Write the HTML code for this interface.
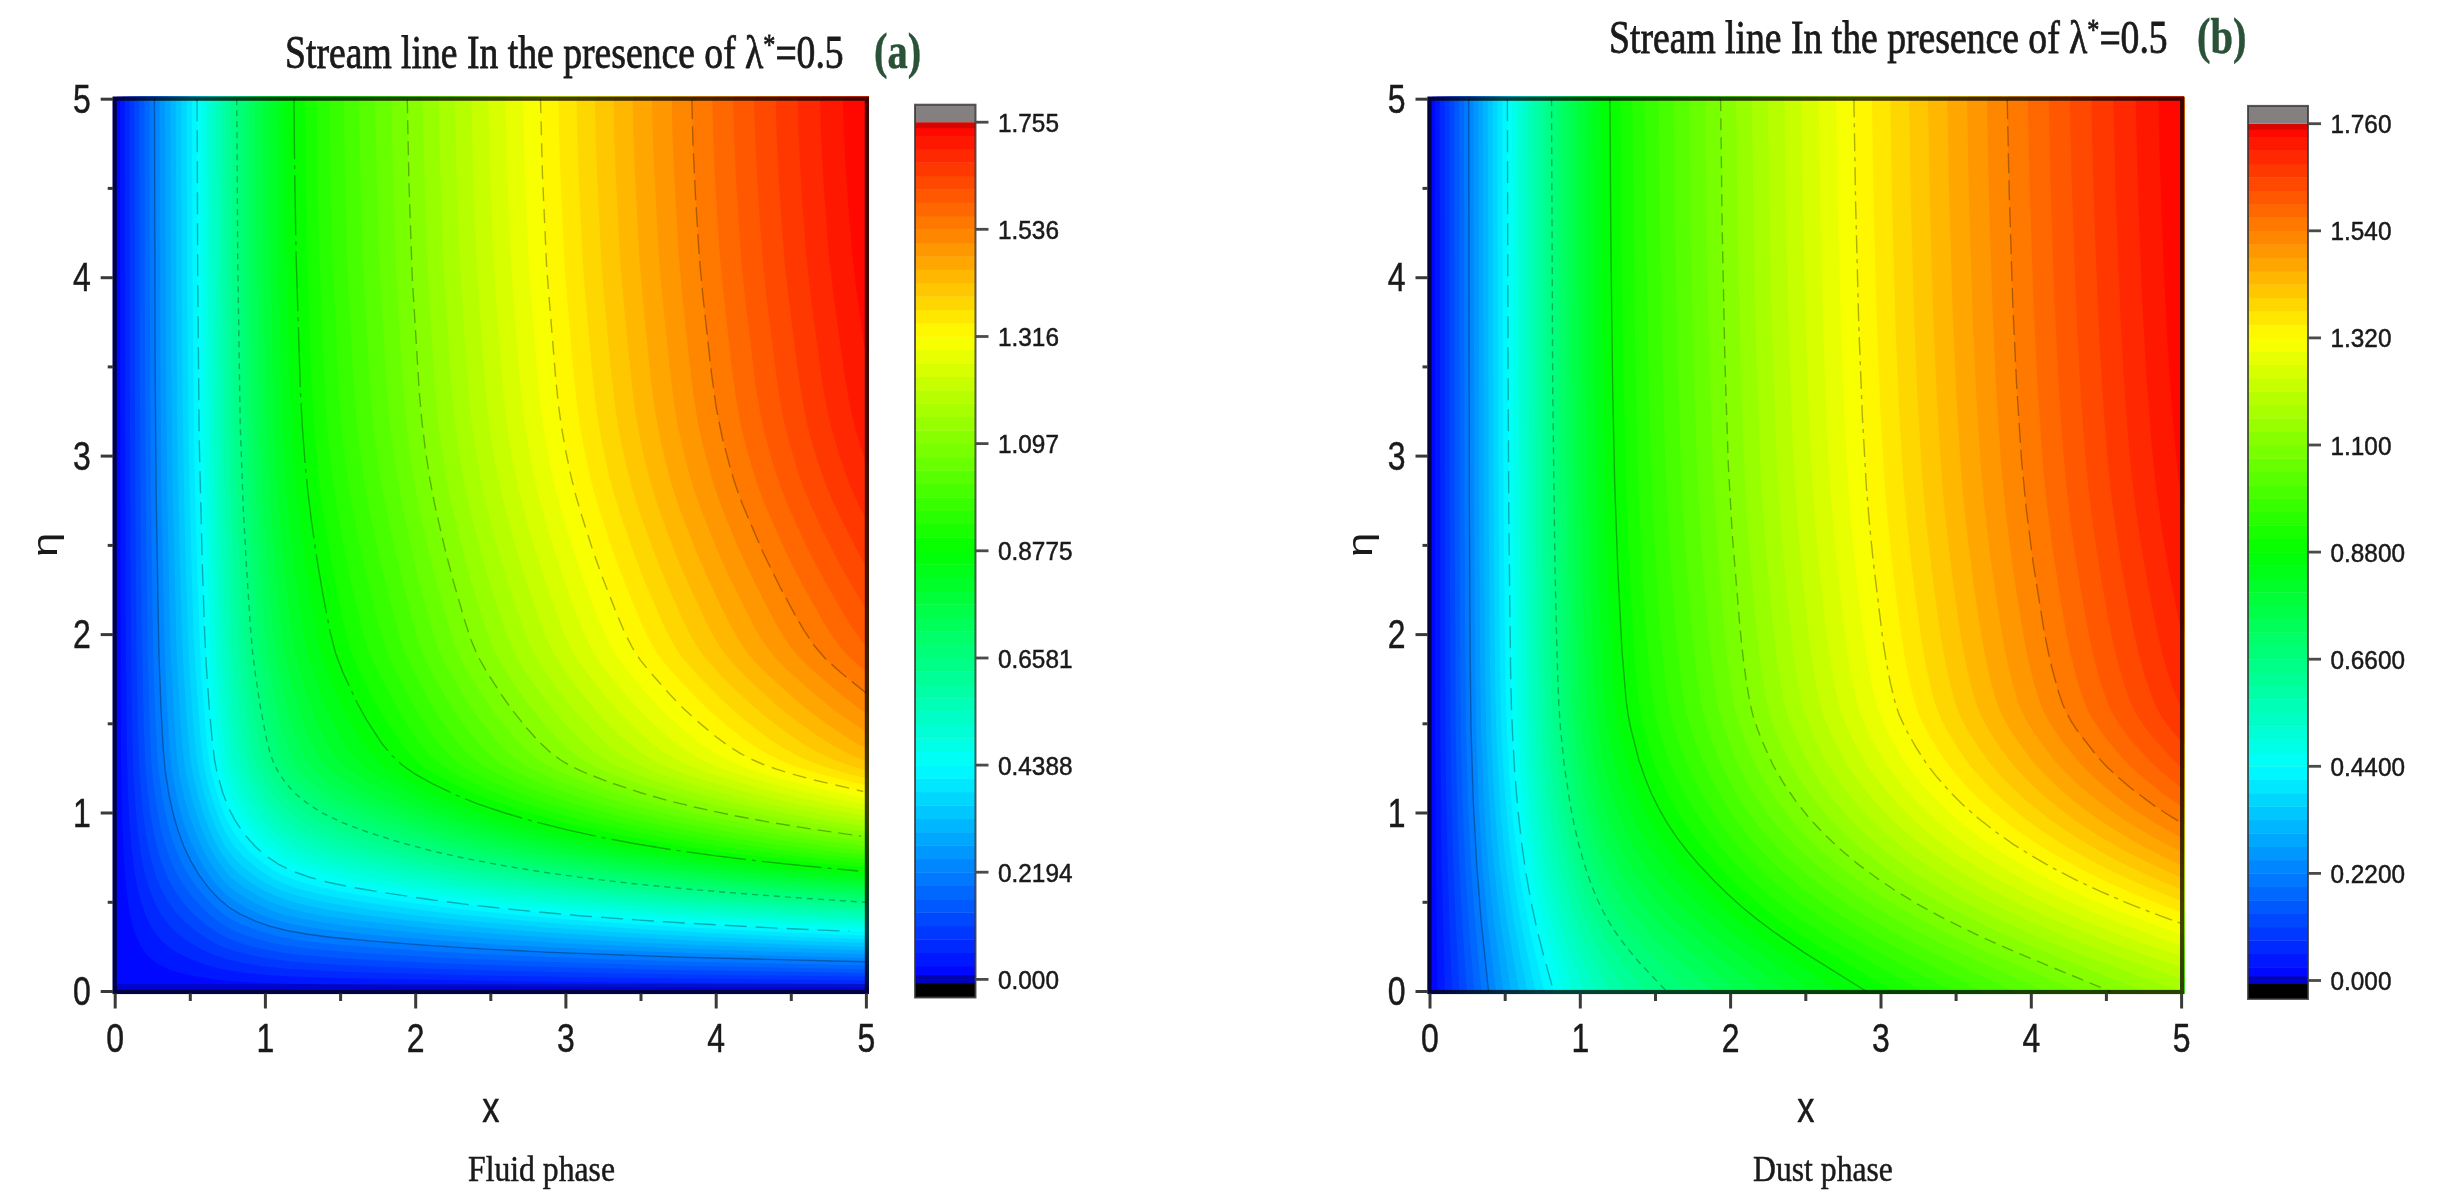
<!DOCTYPE html>
<html><head><meta charset="utf-8"><title>Stream lines</title><style>html,body{margin:0;padding:0;background:#fff}svg{display:block;filter:blur(0.6px)}</style></head><body>
<svg width="2448" height="1204" viewBox="0 0 2448 1204">
<rect width="2448" height="1204" fill="#fff"/>
<use href="#fa" transform="translate(490.80,545.35) scale(1.00666,1.00560) translate(-490.80,-545.35)"/>
<g id="fa">
<rect x="115.2" y="99.2" width="751.2" height="892.3" fill="#0008ff"/>
<path d="M120.0,99.2 120.5,650.9 121.1,761.0 122.2,819.0 123.4,848.7 124.9,874.0 126.8,893.3 129.3,910.4 132.3,924.6 136.1,936.5 140.7,946.1 145.8,953.6 151.7,959.5 159.1,964.7 168.5,969.2 180.1,972.9 197.0,976.6 216.2,979.6 230.3,981.1 253.1,982.6 293.7,984.1 406.9,985.6 638.2,987.0 866.4,987.8 866.4,99.2Z" fill="#0018ff"/>
<path d="M124.8,99.2 125.0,424.1 125.7,629.4 126.7,746.1 128.0,793.0 129.5,822.0 131.5,847.2 134.2,869.6 137.2,886.7 141.3,903.0 146.1,916.4 151.7,927.6 158.5,937.2 162.6,941.7 166.8,945.4 171.6,949.1 177.5,952.8 189.5,958.8 205.8,964.7 219.3,968.4 235.0,971.4 253.1,973.7 280.1,975.9 337.0,978.1 500.1,981.1 638.4,982.6 866.4,984.1 866.4,99.2Z" fill="#0028ff"/>
<path d="M129.6,99.2 129.9,404.8 130.5,558.0 131.4,674.7 132.5,743.1 133.4,772.9 135.3,804.1 137.7,830.9 140.6,852.4 144.4,871.8 148.7,887.4 154.5,902.3 160.4,913.4 168.0,923.8 172.7,929.0 177.5,933.5 188.4,941.7 202.8,949.9 216.3,955.8 230.3,960.3 244.4,963.2 263.5,966.2 284.2,968.4 320.0,970.7 357.7,972.2 500.2,975.9 638.5,978.1 866.4,980.4 866.4,99.2Z" fill="#0038ff"/>
<path d="M134.5,99.2 134.9,392.2 135.5,528.2 136.7,659.9 138.1,731.2 139.2,765.5 141.3,794.5 143.7,818.2 147.0,840.6 151.0,859.1 155.7,875.5 161.2,888.9 168.1,901.5 176.1,912.7 186.1,923.1 197.2,932.0 210.8,940.9 217.8,944.7 224.5,947.6 235.1,951.3 253.2,955.8 274.6,959.5 294.0,961.8 324.1,964.0 369.4,966.2 427.3,968.4 500.3,970.7 598.3,972.9 684.3,974.4 866.4,976.6 866.4,99.2Z" fill="#0048ff"/>
<path d="M139.4,99.2 139.9,385.5 140.6,516.4 142.2,656.9 143.6,718.6 145.2,761.7 147.2,787.0 150.1,811.6 153.9,833.9 157.9,851.0 163.2,867.3 169.1,880.7 176.0,892.6 184.8,904.5 194.6,914.9 206.8,925.3 218.8,933.5 230.5,939.4 245.3,944.7 262.5,949.1 282.7,952.8 301.0,955.1 337.4,958.0 376.8,960.3 440.4,963.2 523.8,966.2 674.9,969.9 866.4,972.9 866.4,99.2Z" fill="#0058ff"/>
<path d="M144.4,99.2 144.9,381.8 145.8,510.4 147.7,654.7 149.4,714.9 151.2,758.0 153.0,779.6 156.3,804.9 160.1,824.9 164.7,843.5 170.1,859.1 176.5,873.3 183.6,885.2 191.9,896.3 202.7,908.2 213.4,917.9 223.9,925.3 235.1,931.3 251.0,937.2 269.8,942.4 289.1,946.1 312.9,949.1 347.4,952.1 407.5,955.8 465.5,958.8 519.9,961.0 668.7,965.5 866.4,969.2 866.4,99.2Z" fill="#0068ff"/>
<path d="M149.4,99.2 150.1,378.8 151.0,505.9 153.2,653.2 155.2,711.9 157.2,754.3 159.1,775.1 162.8,800.4 166.8,819.7 171.9,838.3 177.4,853.2 184.5,868.1 191.7,880.0 200.7,891.9 211.5,903.8 221.6,912.7 231.6,919.4 243.9,925.3 259.8,931.3 278.8,936.5 299.2,940.2 322.8,943.2 355.2,946.1 418.9,950.6 470.5,953.6 534.7,956.6 615.5,959.5 691.8,961.8 866.4,965.5 866.4,99.2Z" fill="#0078ff"/>
<path d="M154.5,99.2 155.2,375.8 156.3,501.5 158.9,651.7 161.0,707.5 163.3,749.8 165.2,770.7 169.0,794.5 173.2,813.8 178.4,831.6 183.9,846.5 190.6,860.6 199.0,874.8 208.3,887.4 218.6,898.6 223.5,903.0 229.2,907.5 240.4,914.2 255.0,920.9 269.7,926.1 286.8,930.5 307.9,934.2 331.0,937.2 370.1,940.9 428.0,945.4 487.3,949.1 546.3,952.1 618.6,955.1 685.0,957.3 866.4,961.8 866.4,99.2Z" fill="#0087ff"/>
<path d="M159.7,99.2 160.5,372.1 161.6,497.0 164.7,650.2 167.0,703.7 169.4,744.6 171.2,764.7 174.1,783.3 178.4,804.1 183.9,823.5 189.9,839.8 196.5,853.9 205.9,870.3 214.5,882.2 223.5,891.9 233.4,900.0 247.1,908.2 261.6,914.9 276.4,920.1 290.7,923.8 310.7,927.6 337.8,931.3 374.1,935.0 445.1,940.9 501.2,944.7 555.7,947.6 621.0,950.6 701.9,953.6 866.4,958.0 866.4,99.2Z" fill="#0097ff"/>
<path d="M165.0,99.2 165.9,368.4 167.1,492.6 170.6,648.7 173.0,699.3 175.4,738.7 177.3,760.2 179.6,775.9 184.4,798.2 189.7,816.8 196.2,834.6 203.3,850.2 211.7,865.1 220.3,877.0 224.9,882.2 229.6,886.7 235.1,891.1 240.5,894.8 256.1,903.8 271.4,910.4 285.1,914.9 300.9,918.6 321.9,922.3 349.6,926.1 408.0,932.0 450.2,935.7 501.3,939.4 563.3,943.2 623.1,946.1 695.4,949.1 784.5,952.1 866.4,954.3 866.4,99.2Z" fill="#00a7ff"/>
<path d="M170.4,99.2 171.3,357.2 172.6,482.9 176.3,642.0 177.6,671.0 180.6,720.8 182.8,749.1 184.8,766.2 188.6,785.5 193.7,805.6 200.5,825.7 208.0,843.5 215.7,857.7 224.7,870.3 229.3,875.5 234.0,880.0 244.9,888.1 258.7,896.3 266.2,900.0 275.0,903.8 288.3,908.2 306.9,912.7 327.5,916.4 354.0,920.1 414.9,926.8 454.5,930.5 511.8,935.0 569.7,938.7 640.0,942.4 708.6,945.4 866.4,950.6 866.4,99.2Z" fill="#00b7ff"/>
<path d="M175.8,99.2 176.4,300.7 177.2,410.0 178.1,477.7 179.9,558.0 182.1,637.6 183.3,664.3 186.1,709.7 188.7,743.1 190.7,761.7 193.7,778.1 198.7,798.2 205.0,818.2 212.9,837.6 220.0,851.0 228.4,862.9 233.0,868.1 237.6,872.5 243.9,877.7 250.0,882.2 263.7,890.4 278.3,897.1 291.3,901.5 309.1,906.0 332.5,910.4 357.7,914.2 414.0,920.9 457.8,925.3 510.8,929.8 563.5,933.5 626.1,937.2 702.5,940.9 776.8,943.9 866.4,946.9 866.4,99.2Z" fill="#00c7ff"/>
<path d="M181.2,99.2 181.8,288.8 182.6,402.6 183.5,465.8 185.3,547.6 187.8,630.1 188.9,658.4 191.4,697.0 194.4,736.5 196.6,758.0 199.1,772.9 203.5,791.5 209.3,810.8 216.2,828.7 223.7,843.5 227.5,849.5 232.0,855.4 235.9,859.9 242.1,865.8 253.9,875.5 267.0,883.7 281.2,890.4 296.7,895.6 317.8,900.8 341.5,905.2 366.5,909.0 419.4,915.7 460.6,920.1 509.8,924.6 568.7,929.0 627.1,932.8 697.4,936.5 783.3,940.2 866.4,943.1 866.4,99.2Z" fill="#00d7ff"/>
<path d="M186.6,99.2 187.1,273.9 188.6,442.0 189.7,497.8 191.7,572.1 193.8,637.6 195.5,669.5 198.4,711.2 201.2,744.6 203.3,761.7 205.9,775.9 211.7,798.2 218.2,816.8 222.1,825.7 226.7,834.6 230.8,841.3 235.1,847.2 245.5,858.4 257.8,868.8 270.3,877.0 284.1,883.7 299.1,888.9 319.2,894.1 341.6,898.6 369.4,903.0 418.3,909.7 462.9,914.9 517.2,920.1 573.0,924.6 640.0,929.0 707.5,932.8 788.9,936.5 866.4,939.4 866.4,99.2Z" fill="#00e7ff"/>
<path d="M191.9,99.2 192.5,272.5 194.0,439.8 195.1,495.5 197.0,566.2 199.4,636.1 201.0,668.0 204.0,709.7 206.8,742.4 208.9,760.2 211.4,773.6 217.4,795.9 223.7,813.0 227.4,821.2 231.5,828.7 235.7,835.3 240.2,841.3 250.4,852.4 256.1,857.7 262.7,862.9 275.1,871.0 282.1,874.8 288.8,877.7 303.9,882.9 323.7,888.1 345.4,892.6 377.0,897.8 423.1,904.5 465.1,909.7 515.7,914.9 576.7,920.1 639.7,924.6 702.5,928.3 777.0,932.0 866.4,935.7 866.4,99.2Z" fill="#00f7ff"/>
<path d="M197.1,99.2 197.7,272.5 199.2,439.8 200.4,495.5 202.4,568.4 204.8,636.1 206.4,668.0 209.5,709.7 212.3,741.7 214.6,760.2 217.2,772.9 223.1,793.7 229.2,809.3 232.5,816.0 236.4,822.7 246.5,836.8 251.7,842.8 257.6,848.7 263.6,853.9 270.5,859.1 277.4,863.6 284.2,867.3 292.2,871.0 300.0,874.0 319.2,880.0 341.5,885.2 369.9,890.4 412.4,897.1 449.5,902.3 493.3,907.5 545.5,912.7 598.5,917.1 661.5,921.6 724.0,925.3 797.8,929.0 866.4,932.0 866.4,99.2Z" fill="#00fff7"/>
<path d="M202.1,99.2 202.7,271.7 204.3,438.3 205.4,494.0 207.4,562.5 209.8,632.3 211.4,664.3 214.6,706.7 217.6,737.9 219.9,756.5 222.5,769.9 227.8,787.8 230.8,795.9 234.0,803.4 242.0,817.5 251.6,830.9 257.4,837.6 262.5,842.8 268.4,848.0 274.3,852.4 281.1,856.9 287.8,860.6 303.5,867.3 324.3,874.0 345.6,879.2 372.4,884.4 416.9,891.9 458.1,897.8 507.0,903.8 558.1,909.0 609.7,913.4 670.6,917.9 730.8,921.6 801.3,925.3 866.4,928.2 866.4,99.2Z" fill="#00ffe7"/>
<path d="M206.9,99.2 207.5,271.0 209.1,436.8 210.2,491.8 212.2,557.2 214.8,628.6 216.4,660.6 219.8,703.0 222.7,732.7 225.1,752.1 227.8,766.2 232.6,781.8 239.2,797.4 247.1,811.6 256.1,824.2 261.8,830.9 267.6,836.8 278.2,845.8 283.7,849.5 290.2,853.2 298.0,856.9 307.1,860.6 327.2,867.3 350.2,873.3 379.2,879.2 421.1,886.7 460.4,892.6 507.1,898.6 554.8,903.8 611.1,909.0 668.5,913.4 724.6,917.1 789.8,920.9 866.4,924.5 866.4,99.2Z" fill="#00ffd7"/>
<path d="M211.6,99.2 212.2,271.0 213.9,436.0 215.1,491.1 217.0,552.8 219.8,624.9 221.5,656.9 224.6,694.1 227.2,720.1 230.4,746.1 233.5,762.5 235.4,769.2 238.0,776.6 245.6,793.7 252.7,806.3 261.2,818.2 266.2,824.2 272.0,830.1 277.8,835.3 283.6,839.8 289.2,843.5 295.9,847.2 312.8,854.7 332.7,861.4 355.3,867.3 386.3,874.0 429.7,882.2 467.8,888.1 513.0,894.1 559.2,899.3 612.7,904.5 666.7,909.0 730.6,913.4 793.1,917.1 866.4,920.8 866.4,99.2Z" fill="#00ffc7"/>
<path d="M216.3,99.2 217.0,271.0 218.7,434.6 220.0,489.6 221.9,548.3 224.9,620.5 226.6,652.4 229.1,681.4 232.8,715.6 236.5,741.7 240.0,759.5 244.0,772.1 250.2,786.3 257.4,799.7 265.8,811.6 270.8,817.5 276.6,823.5 282.5,828.7 288.4,833.1 294.1,836.8 302.1,841.3 318.8,848.7 338.5,855.4 360.5,861.4 407.5,871.8 438.2,877.7 474.8,883.7 518.4,889.6 569.9,895.6 622.4,900.8 674.8,905.2 736.3,909.7 796.1,913.4 866.4,917.2 866.4,99.2Z" fill="#00ffb7"/>
<path d="M221.0,99.2 221.8,270.2 223.6,433.8 225.0,488.8 227.0,545.4 230.2,614.5 232.1,648.0 234.3,672.5 238.9,710.4 243.5,740.2 246.9,757.3 250.6,769.2 255.9,781.1 263.8,795.2 271.1,805.6 276.2,811.6 281.4,816.8 286.5,821.2 292.5,825.7 300.7,830.9 308.9,835.3 318.2,839.8 327.2,843.5 347.0,850.2 371.7,856.9 417.1,867.3 450.8,874.0 486.7,880.0 529.4,885.9 573.0,891.1 623.5,896.3 682.5,901.5 741.7,906.0 799.0,909.7 866.4,913.5 866.4,99.2Z" fill="#00ffa7"/>
<path d="M225.9,99.2 226.7,270.2 228.8,432.3 230.2,484.4 232.0,531.2 234.6,584.8 237.8,639.0 240.1,664.3 245.0,703.7 249.9,735.0 253.5,752.8 256.7,764.0 261.4,775.1 268.5,787.8 276.2,798.9 281.3,804.9 286.6,810.1 291.9,814.5 299.2,819.7 307.6,824.9 316.0,829.4 325.4,833.9 336.2,838.3 355.9,845.0 382.8,852.4 423.0,862.1 459.5,869.6 493.8,875.5 534.5,881.4 582.5,887.4 631.9,892.6 689.6,897.8 747.0,902.3 801.9,906.0 866.4,909.7 866.4,99.2Z" fill="#00ff97"/>
<path d="M231.1,99.2 232.0,269.5 234.2,429.4 235.7,478.4 237.3,515.6 240.4,574.3 244.2,635.3 246.6,661.3 251.4,697.8 255.2,721.6 260.4,748.3 263.9,761.0 268.0,770.7 273.8,781.1 281.8,792.2 286.9,798.2 292.3,803.4 298.8,808.6 306.3,813.8 314.9,819.0 323.3,823.5 341.9,831.6 365.2,839.8 393.7,848.0 428.9,856.9 464.0,864.3 501.2,871.0 539.8,877.0 585.5,882.9 632.5,888.1 687.5,893.3 742.2,897.8 804.9,902.3 866.4,906.0 866.4,99.2Z" fill="#00ff87"/>
<path d="M236.7,99.2 237.8,266.5 240.2,424.1 241.8,474.0 243.3,509.7 246.5,566.9 250.3,625.7 252.5,651.7 255.3,674.0 260.8,709.7 266.6,739.4 270.2,753.6 274.0,764.0 279.1,773.6 285.4,782.6 290.5,788.5 296.4,794.5 302.4,799.7 309.3,804.9 323.9,813.8 342.5,822.7 353.7,827.2 368.3,832.4 401.7,842.8 432.0,851.0 465.1,858.4 504.3,865.8 545.6,872.5 588.9,878.5 633.4,883.7 685.6,888.9 737.5,893.3 797.1,897.8 866.4,902.3 866.4,99.2Z" fill="#00ff78"/>
<path d="M242.8,99.2 243.8,263.5 246.2,416.0 249.1,496.3 255.0,593.7 257.8,631.6 260.0,654.7 263.7,679.9 269.4,712.7 275.0,737.9 279.3,752.8 283.9,764.0 287.0,769.2 290.7,774.4 295.9,780.3 301.9,786.3 308.6,792.2 315.3,797.4 329.3,806.3 347.3,815.3 359.8,820.5 373.9,825.7 412.2,838.3 438.6,845.8 470.1,853.2 507.6,860.6 547.1,867.3 592.9,874.0 634.9,879.2 684.2,884.4 742.2,889.6 799.8,894.1 866.4,898.5 866.4,99.2Z" fill="#00ff68"/>
<path d="M249.0,99.2 250.1,263.5 252.6,413.7 255.6,492.6 261.3,583.3 264.8,627.9 267.2,651.7 270.3,671.8 275.9,702.2 281.4,726.0 287.3,746.1 292.6,758.8 295.2,763.2 298.9,768.4 303.3,773.6 309.3,779.6 316.3,785.5 324.1,791.5 338.1,800.4 355.9,809.3 381.8,819.7 420.5,833.1 448.4,841.3 478.8,848.7 515.1,856.2 553.3,862.9 597.6,869.6 643.4,875.5 691.0,880.7 746.8,885.9 802.4,890.4 866.4,894.8 866.4,99.2Z" fill="#00ff58"/>
<path d="M255.3,99.2 256.5,262.8 259.2,413.0 262.4,491.8 268.5,579.6 272.5,625.7 275.1,649.5 278.0,667.3 283.3,693.3 289.1,716.4 296.1,737.9 302.4,752.8 306.2,759.5 309.3,764.0 313.7,769.2 319.1,774.4 325.3,779.6 332.4,784.8 349.0,795.2 368.3,804.9 395.6,816.0 428.8,827.9 461.2,837.6 491.0,845.0 526.5,852.4 564.0,859.1 607.5,865.8 652.3,871.8 697.9,877.0 751.6,882.2 805.0,886.7 866.4,891.1 866.4,99.2Z" fill="#00ff48"/>
<path d="M261.9,99.2 263.3,263.5 266.2,413.0 267.7,451.7 269.7,491.8 272.9,537.2 276.3,578.1 280.5,621.2 283.2,643.5 285.9,659.9 290.1,678.5 298.1,707.5 306.6,731.2 310.6,740.9 314.2,748.3 318.0,755.0 322.2,761.0 326.0,765.5 331.5,770.7 338.0,775.9 345.5,781.1 365.9,793.0 385.9,802.6 414.4,814.5 439.4,823.5 471.4,833.1 503.3,841.3 538.0,848.7 574.6,855.4 617.2,862.1 661.2,868.1 705.4,873.3 756.7,878.5 808.0,882.9 866.4,887.3 866.4,99.2Z" fill="#00ff38"/>
<path d="M268.9,99.2 270.4,262.8 273.5,410.8 275.1,448.7 277.4,488.8 280.1,524.5 284.1,567.7 288.6,608.6 291.8,633.8 294.9,651.7 298.6,667.3 307.6,697.0 315.4,718.6 321.6,732.7 325.9,741.7 330.7,749.8 335.3,756.5 339.7,761.7 345.1,766.9 351.8,772.1 359.5,777.3 369.5,783.3 383.4,790.7 409.5,803.4 431.2,812.3 456.8,821.2 484.2,829.4 515.7,837.6 545.8,844.3 580.9,851.0 621.9,857.7 664.2,863.6 713.2,869.6 762.4,874.8 811.4,879.2 866.4,883.5 866.4,99.2Z" fill="#00ff28"/>
<path d="M276.4,99.2 278.0,262.0 281.4,405.6 283.0,442.0 285.5,482.1 288.0,511.9 292.0,549.8 296.2,584.0 302.2,626.4 305.8,646.5 309.4,661.3 319.1,690.3 327.9,712.7 339.7,736.5 344.6,744.6 349.2,751.3 354.1,757.3 359.2,762.5 364.5,766.9 371.8,772.1 390.7,783.3 419.5,798.2 440.4,807.1 465.1,816.0 491.7,824.2 522.3,832.4 554.1,839.8 587.6,846.5 626.9,853.2 667.5,859.1 714.5,865.1 761.5,870.3 815.5,875.5 866.4,879.7 866.4,99.2Z" fill="#00ff18"/>
<path d="M284.6,99.2 285.1,170.6 286.4,260.6 290.2,398.9 292.0,435.3 294.8,474.7 297.4,501.5 301.3,534.9 306.5,574.3 313.5,618.2 317.7,640.5 321.8,656.9 329.4,678.5 336.1,694.8 341.8,707.5 347.1,717.9 354.2,730.5 359.7,739.4 364.8,746.9 370.2,753.6 375.8,759.5 380.9,764.0 386.8,768.4 395.8,774.4 407.2,781.1 429.8,793.0 449.8,801.9 473.7,810.8 499.3,819.0 528.9,827.2 562.9,835.3 594.8,842.0 627.8,848.0 666.0,853.9 710.3,859.9 761.2,865.8 812.5,871.0 866.4,875.8 866.4,99.2Z" fill="#00ff08"/>
<path d="M294.0,99.2 294.6,169.1 296.2,258.3 300.5,391.4 302.2,425.6 304.9,461.3 307.7,491.1 311.8,523.0 317.4,561.7 323.2,595.9 330.1,631.6 332.9,643.5 335.8,653.9 339.0,662.8 343.3,673.2 357.5,703.7 367.1,720.8 376.0,735.0 382.2,743.9 392.1,755.8 397.4,761.0 402.7,765.5 409.9,770.7 416.8,775.1 435.8,785.5 457.9,795.9 480.5,804.9 507.2,813.8 538.5,822.7 571.7,830.9 606.3,838.3 638.3,844.3 675.4,850.2 718.5,856.2 761.5,861.4 810.4,866.6 866.4,871.8 866.4,99.2Z" fill="#08ff00"/>
<path d="M304.7,99.2 305.5,168.4 307.2,257.6 311.8,386.2 313.6,419.7 316.2,451.7 319.5,484.4 323.4,513.4 330.0,554.3 336.4,588.5 345.0,628.6 348.3,641.3 351.5,651.7 354.8,660.6 359.1,670.3 374.9,701.5 385.3,719.3 401.0,743.1 410.6,755.0 415.7,760.2 420.0,764.0 426.1,768.4 433.1,772.9 449.4,781.8 473.3,793.0 495.8,801.9 522.5,810.8 551.0,819.0 583.8,827.2 618.0,834.6 649.0,840.6 685.0,846.5 726.8,852.4 768.6,857.7 816.2,862.9 866.4,867.7 866.4,99.2Z" fill="#18ff00"/>
<path d="M316.6,99.2 317.3,167.6 319.3,256.1 324.2,378.8 326.2,413.0 328.5,441.2 332.5,477.7 336.1,503.0 343.6,546.1 350.4,579.6 361.0,624.9 364.4,637.6 367.9,648.7 371.0,656.9 375.4,666.6 392.0,698.5 403.1,717.9 418.0,740.9 426.9,752.1 436.8,761.7 448.4,769.9 463.1,778.1 485.5,788.5 509.3,798.2 535.4,807.1 563.4,815.3 592.7,822.7 626.1,830.1 660.2,836.8 695.0,842.8 735.4,848.7 775.9,853.9 822.1,859.1 866.4,863.5 866.4,99.2Z" fill="#28ff00"/>
<path d="M329.5,99.2 330.4,166.9 332.6,254.6 337.8,370.6 339.9,405.6 342.0,431.6 345.7,464.3 349.9,493.3 356.6,529.7 365.6,572.1 378.1,622.7 385.2,646.5 388.5,655.4 392.5,664.3 410.9,700.0 420.8,717.1 433.6,736.5 442.9,748.3 452.4,758.0 461.9,765.5 474.3,772.9 494.2,782.6 521.0,793.7 543.9,801.9 570.7,810.1 598.7,817.5 630.8,824.9 663.7,831.6 700.9,838.3 739.2,844.3 777.6,849.5 821.6,854.7 866.4,859.3 866.4,99.2Z" fill="#38ff00"/>
<path d="M343.8,99.2 344.8,166.9 347.1,253.1 348.6,288.8 352.2,357.2 354.4,394.4 356.7,421.9 359.9,450.9 364.3,482.1 370.2,514.1 380.7,562.5 395.2,620.5 401.9,643.5 407.4,658.4 415.3,674.7 430.1,702.2 442.3,721.6 454.0,737.9 462.6,748.3 472.6,758.0 482.6,765.5 497.1,773.6 516.5,782.6 544.7,793.7 568.7,801.9 596.8,810.1 629.5,818.2 663.8,825.7 699.1,832.4 739.0,839.1 774.7,844.3 821.9,850.2 866.4,855.1 866.4,99.2Z" fill="#48ff00"/>
<path d="M359.1,99.2 359.8,147.5 361.2,203.3 363.1,260.6 365.2,302.9 369.3,374.3 371.9,410.0 375.3,441.2 380.5,477.7 386.2,508.9 397.1,558.7 411.5,617.5 418.0,640.5 423.1,654.7 429.4,668.0 444.6,695.6 456.2,714.1 470.2,733.5 479.3,744.6 489.0,754.3 499.2,762.5 511.7,769.9 528.7,778.1 550.6,787.0 577.4,796.7 604.1,804.9 632.3,812.3 664.8,819.7 702.1,827.2 740.4,833.9 778.7,839.8 823.3,845.8 866.4,850.7 866.4,99.2Z" fill="#58ff00"/>
<path d="M375.2,99.2 375.9,145.3 377.3,198.1 379.3,258.3 381.4,298.5 385.9,373.6 388.5,409.3 392.0,440.5 397.1,476.9 403.0,508.9 413.8,559.5 422.4,594.4 429.5,621.2 433.9,636.1 439.1,650.9 445.0,663.6 458.9,688.1 469.9,706.0 479.9,720.1 495.8,740.2 505.7,750.6 516.4,759.5 526.7,766.2 541.3,773.6 558.7,781.1 582.6,790.0 607.2,798.2 633.2,805.6 663.3,813.0 698.1,820.5 738.0,827.9 778.8,834.6 820.2,840.6 866.4,846.2 866.4,99.2Z" fill="#68ff00"/>
<path d="M391.5,99.2 392.1,143.1 393.4,192.9 395.6,256.1 397.4,293.3 402.1,372.8 404.7,407.8 408.0,439.0 412.8,474.0 418.7,506.7 429.1,553.5 437.7,587.7 449.9,630.9 455.6,647.2 460.9,659.1 468.3,672.5 482.5,695.6 494.7,713.4 508.8,731.2 519.2,743.1 529.4,752.8 539.0,760.2 550.1,766.9 564.0,773.6 582.2,781.1 611.6,791.5 635.5,798.9 666.3,807.1 699.0,814.5 736.6,822.0 779.8,829.4 824.2,836.1 866.4,841.6 866.4,99.2Z" fill="#78ff00"/>
<path d="M407.3,99.2 408.9,181.0 412.3,278.4 419.3,392.9 421.8,421.2 425.4,449.4 430.1,480.7 435.1,505.9 445.2,549.8 454.1,584.0 465.1,621.9 471.5,641.3 478.3,656.9 487.6,673.2 502.5,696.3 513.1,711.2 528.2,729.8 539.6,742.4 550.0,752.1 561.0,760.2 571.1,766.2 585.3,772.9 610.2,782.6 641.6,793.0 670.4,801.1 701.0,808.6 736.3,816.0 777.0,823.5 818.9,830.1 866.4,836.8 866.4,99.2Z" fill="#87ff00"/>
<path d="M422.9,99.2 424.4,178.8 427.9,274.7 435.1,388.5 437.6,416.7 440.8,442.7 446.0,476.2 450.1,497.8 457.5,529.7 467.2,567.7 480.6,613.0 487.3,633.8 494.2,650.9 501.8,665.1 517.8,689.6 529.4,706.0 540.1,719.3 555.9,737.2 566.6,747.6 576.8,755.8 587.0,762.5 600.2,769.2 622.2,778.1 648.4,787.0 678.2,795.9 710.4,804.1 744.4,811.6 783.6,819.0 824.2,825.7 866.4,831.8 866.4,99.2Z" fill="#97ff00"/>
<path d="M438.8,99.2 440.3,177.3 443.9,273.2 451.3,386.2 453.9,414.5 457.1,439.8 462.0,471.0 466.4,494.0 472.9,521.6 482.8,559.5 491.6,589.2 504.5,629.4 511.5,647.2 518.4,660.6 528.5,676.2 547.1,702.2 558.4,716.4 572.6,732.0 583.6,743.1 594.2,752.1 606.1,760.2 617.2,766.2 636.5,774.4 660.0,782.6 694.7,793.0 723.3,800.4 756.5,807.8 790.8,814.5 825.4,820.5 866.4,826.7 866.4,99.2Z" fill="#a7ff00"/>
<path d="M455.0,99.2 456.6,176.5 460.3,272.5 468.0,384.7 470.6,413.0 473.8,437.5 478.6,467.3 483.4,491.8 489.5,517.1 499.3,553.5 508.4,584.0 521.9,624.9 528.8,642.8 535.8,656.9 544.8,671.0 561.5,694.1 572.6,708.2 583.7,720.8 598.8,736.5 610.2,746.9 623.4,756.5 636.3,764.0 653.3,771.4 676.4,779.6 706.1,788.5 736.6,796.7 765.4,803.4 794.5,809.3 827.4,815.3 866.4,821.5 866.4,99.2Z" fill="#b7ff00"/>
<path d="M471.5,99.2 473.1,175.8 477.0,271.0 485.0,383.2 487.7,411.5 490.8,435.3 495.4,463.6 500.6,489.6 506.5,513.4 516.1,548.3 525.9,580.3 539.8,621.2 546.7,639.0 553.5,653.2 562.4,667.3 578.3,688.9 590.7,704.5 602.6,717.9 618.8,734.2 630.4,744.6 642.3,753.6 655.8,761.7 670.5,768.4 690.9,775.9 717.4,784.0 750.3,793.0 774.9,798.9 802.9,804.9 834.5,810.8 866.4,816.1 866.4,99.2Z" fill="#c7ff00"/>
<path d="M488.4,99.2 490.0,175.0 494.0,270.2 502.2,381.8 505.0,410.0 508.0,433.1 512.8,461.3 518.3,488.1 524.3,511.9 533.6,544.6 543.9,577.3 558.0,617.5 564.9,635.3 571.8,650.2 578.6,661.3 588.9,675.5 607.2,698.5 621.7,714.9 639.1,732.0 650.8,742.4 662.7,751.3 676.0,759.5 688.4,765.5 705.8,772.1 726.5,778.8 750.1,785.5 779.0,793.0 804.9,798.9 834.3,804.9 866.4,810.6 866.4,99.2Z" fill="#d7ff00"/>
<path d="M505.5,99.2 507.2,175.0 511.3,269.5 519.8,381.0 522.7,409.3 525.7,431.6 530.2,457.6 535.7,484.4 541.1,505.9 549.1,533.5 558.3,563.2 568.1,591.5 581.1,626.4 585.5,636.8 590.2,646.5 596.6,657.6 605.7,670.3 625.7,694.8 639.7,710.4 651.0,721.6 670.8,739.4 682.5,748.3 695.4,756.5 706.9,762.5 719.4,767.7 736.4,773.6 756.1,779.6 781.1,786.3 811.7,793.7 839.4,799.7 866.4,804.8 866.4,99.2Z" fill="#e7ff00"/>
<path d="M522.9,99.2 524.7,174.3 528.9,268.7 537.6,379.5 540.5,407.8 543.5,429.4 547.8,453.9 553.3,480.7 558.2,500.0 564.6,522.3 574.7,554.3 583.9,581.0 599.2,621.2 607.7,640.5 614.5,653.2 622.8,665.1 641.9,688.1 655.8,703.7 670.0,717.9 688.5,734.2 700.7,743.9 712.9,752.1 724.7,758.8 735.9,764.0 749.7,769.2 765.7,774.4 786.6,780.3 813.1,787.0 842.2,793.7 866.4,798.7 866.4,99.2Z" fill="#f7ff00"/>
<path d="M540.5,99.2 541.2,134.9 542.4,173.6 546.7,268.0 555.6,378.0 558.6,406.3 561.6,427.9 565.8,451.7 571.5,478.4 576.0,496.3 582.1,517.1 592.7,549.8 601.6,575.1 617.6,616.0 625.6,634.6 633.3,649.5 640.8,660.6 651.7,674.0 671.6,696.3 684.7,709.7 696.9,720.8 716.5,737.2 731.0,747.6 742.0,754.3 753.6,760.2 764.1,764.7 778.8,769.9 795.9,775.1 815.2,780.3 839.8,786.3 866.4,792.2 866.4,99.2Z" fill="#fff700"/>
<path d="M558.4,99.2 559.0,134.1 560.3,172.8 564.7,266.5 567.2,299.2 573.8,375.8 576.8,403.3 579.8,424.9 584.2,449.4 590.0,476.2 594.1,492.6 599.6,511.1 610.9,545.4 619.2,568.4 628.2,591.5 642.8,626.4 649.7,640.5 656.6,652.4 664.3,662.8 674.5,674.7 694.0,695.6 709.1,710.4 728.3,726.8 746.5,740.9 757.6,748.3 768.0,754.3 780.0,760.2 791.0,764.7 806.4,769.9 824.3,775.1 844.6,780.3 866.4,785.4 866.4,99.2Z" fill="#ffe700"/>
<path d="M576.6,99.2 577.2,133.4 578.4,171.3 582.9,263.5 585.3,295.5 591.9,369.1 594.5,394.4 597.3,416.0 600.5,435.3 604.7,456.1 610.0,479.2 614.7,496.3 621.7,518.6 632.6,549.8 640.7,571.4 649.6,592.9 660.8,619.0 666.7,631.6 673.5,644.2 680.1,654.7 689.1,665.8 702.2,679.9 721.2,699.3 737.5,714.1 756.0,729.0 770.0,739.4 782.5,747.6 796.0,755.0 808.9,761.0 825.2,766.9 845.2,772.9 866.4,778.3 866.4,99.2Z" fill="#ffd700"/>
<path d="M595.0,99.2 595.6,133.4 596.8,170.6 601.4,262.0 603.9,294.0 610.3,363.9 615.4,409.3 618.3,427.1 621.8,445.7 626.9,468.0 631.6,486.6 636.3,502.2 642.6,520.8 652.6,548.3 660.1,567.7 669.2,589.2 683.5,621.2 690.2,634.6 696.6,645.7 702.6,654.7 710.0,663.6 719.7,674.0 736.0,690.3 751.0,704.5 765.9,717.1 788.6,734.2 804.1,744.6 818.8,752.8 833.2,759.5 847.0,764.7 866.4,770.6 866.4,99.2Z" fill="#ffc700"/>
<path d="M613.7,99.2 614.3,132.7 615.5,169.1 620.2,259.8 622.7,291.8 628.9,356.5 633.7,400.4 636.3,418.2 639.7,436.8 644.1,456.9 649.4,478.4 657.8,505.9 672.0,544.6 679.1,562.5 687.1,581.0 708.3,626.4 714.3,637.6 720.2,647.2 725.5,654.7 731.8,662.1 744.0,674.7 766.6,696.3 781.0,708.9 795.3,720.1 817.2,735.7 832.6,745.4 848.2,753.6 866.4,761.3 866.4,99.2Z" fill="#ffb700"/>
<path d="M632.7,99.2 633.3,131.9 634.6,167.6 639.2,256.1 642.4,295.5 651.0,381.0 655.5,414.5 661.3,444.2 670.2,479.9 674.3,493.3 679.4,508.2 696.3,552.0 712.1,587.7 726.1,616.7 733.0,630.1 740.4,642.8 747.7,653.2 756.0,662.8 767.2,674.0 789.0,694.1 805.7,708.2 820.4,719.3 841.0,733.5 854.0,741.7 866.4,748.5 866.4,99.2Z" fill="#ffa700"/>
<path d="M652.0,99.2 652.7,131.9 654.0,166.9 658.7,254.6 661.8,291.8 669.9,370.6 674.3,405.6 679.0,431.6 686.9,465.0 691.2,480.7 695.5,494.0 702.2,512.6 711.4,535.7 720.1,556.5 728.8,575.8 752.8,624.2 760.0,636.8 767.4,648.0 774.5,656.9 783.8,666.6 795.0,677.0 815.3,694.8 827.1,704.5 838.8,713.4 866.4,731.9 866.4,99.2Z" fill="#ff9700"/>
<path d="M671.7,99.2 672.4,131.2 673.7,166.1 678.6,253.1 681.6,288.8 689.0,358.7 693.4,395.1 697.9,422.7 704.4,451.7 713.4,483.6 718.7,499.2 725.3,516.4 737.4,545.4 745.7,563.9 756.5,586.2 771.9,616.0 779.2,629.4 785.7,639.8 791.4,648.0 796.8,654.7 803.1,661.3 810.9,668.8 842.3,695.6 854.7,705.2 866.4,713.7 866.4,99.2Z" fill="#ff8700"/>
<path d="M691.8,99.2 693.0,144.6 695.5,196.6 699.3,257.6 702.9,296.2 711.3,372.1 716.1,407.0 718.8,421.9 722.2,437.5 731.5,472.5 736.5,488.1 742.8,505.2 751.1,525.3 763.2,552.8 771.3,569.9 780.0,587.0 796.0,616.7 803.8,630.1 809.5,639.0 814.9,646.5 819.7,652.4 825.2,658.4 839.8,671.8 866.4,693.4 866.4,99.2Z" fill="#ff7800"/>
<path d="M712.3,99.2 713.3,138.6 715.2,181.7 719.5,250.9 721.9,279.1 731.1,360.9 735.2,392.9 740.0,421.2 747.0,450.2 756.2,481.4 765.7,506.7 784.8,549.8 792.8,566.2 801.7,583.3 823.0,621.2 829.4,631.6 835.5,640.5 842.5,649.5 848.5,656.1 856.4,663.6 866.4,672.0 866.4,99.2Z" fill="#ff6800"/>
<path d="M733.1,99.2 734.0,135.6 735.8,175.0 739.1,230.1 742.1,270.2 745.8,304.4 755.3,382.5 759.7,410.8 764.7,433.8 772.2,461.3 780.9,488.1 790.6,511.9 805.7,544.6 822.1,576.6 843.5,613.8 855.2,632.3 866.4,647.1 866.4,99.2Z" fill="#ff5800"/>
<path d="M754.2,99.2 755.1,134.1 756.9,172.8 759.8,221.1 763.2,265.8 766.7,298.5 775.9,372.8 779.8,399.6 783.9,421.2 789.5,443.5 796.6,467.3 802.9,485.9 810.5,504.5 822.3,529.7 837.3,559.5 850.1,582.5 866.4,609.4 866.4,99.2Z" fill="#ff4800"/>
<path d="M775.7,99.2 776.6,133.4 778.3,170.6 781.1,214.5 784.6,262.0 788.1,294.0 797.1,364.7 800.6,389.2 804.2,410.0 808.1,427.9 813.4,447.2 820.4,469.5 826.9,487.4 833.5,503.0 842.4,521.6 855.7,547.6 866.4,567.1 866.4,99.2Z" fill="#ff3800"/>
<path d="M797.7,99.2 798.6,132.7 800.2,168.4 802.8,209.3 806.5,257.6 811.3,300.7 819.7,363.9 823.4,389.2 826.8,407.8 830.0,422.7 834.4,439.0 839.8,456.9 846.5,476.2 851.2,488.1 857.8,503.0 866.4,520.4 866.4,99.2Z" fill="#ff2800"/>
<path d="M820.0,99.2 821.4,142.3 824.1,190.7 828.9,254.6 832.8,289.6 843.6,368.4 849.1,401.8 852.3,416.7 856.1,431.6 860.8,447.2 866.4,463.9 866.4,99.2Z" fill="#ff1800"/>
<path d="M842.9,99.2 843.8,131.2 845.6,166.1 848.2,204.8 852.1,253.1 856.2,289.6 866.4,361.2 866.4,99.2Z" fill="#ff0800"/>
</g>
<g fill="none" stroke="#000" stroke-opacity="0.3" stroke-width="1.4">
<path d="M154.5,99.2 155.2,375.8 156.3,501.5 158.9,651.7 161.0,707.5 163.3,749.8 165.2,770.7 169.0,794.5 173.2,813.8 178.4,831.6 183.9,846.5 190.6,860.6 199.0,874.8 208.3,887.4 218.6,898.6 229.2,907.5 240.4,914.2 255.0,920.9 269.7,926.1 286.8,930.5 307.9,934.2 331.0,937.2 370.1,940.9 428.0,945.4 487.3,949.1 546.3,952.1 685.0,957.3 866.4,961.8"/>
<path d="M197.1,99.2 197.7,271.7 199.2,438.3 202.3,563.9 204.7,633.8 206.3,665.8 209.3,708.2 212.2,740.2 214.4,758.8 216.8,771.4 222.6,792.2 228.5,807.8 235.5,821.2 245.3,835.3 255.3,846.5 266.4,856.2 278.7,864.3 292.2,871.0 308.9,877.0 328.0,882.2 352.9,887.4 383.7,892.6 432.9,900.0 473.5,905.2 522.0,910.4 579.9,915.7 639.2,920.1 697.8,923.8 766.7,927.6 849.3,931.3" stroke-dasharray="22 9"/>
<path d="M236.7,99.2 237.8,266.5 240.2,424.1 243.3,509.7 246.5,566.9 250.3,625.7 252.5,651.7 255.3,674.0 260.8,709.7 266.6,739.4 270.2,753.6 274.0,764.0 279.1,773.6 285.4,782.6 290.5,788.5 296.4,794.5 309.3,804.9 323.9,813.8 342.5,822.7 368.3,832.4 401.7,842.8 432.0,851.0 465.1,858.4 504.3,865.8 545.6,872.5 588.9,878.5 633.4,883.7 685.6,888.9 737.5,893.3 797.1,897.8 866.3,902.3" stroke-dasharray="6 5"/>
<path d="M294.0,99.2 294.6,169.1 296.2,258.3 300.4,390.7 302.2,424.9 304.8,459.8 307.7,490.3 311.5,521.6 317.1,560.2 322.9,594.4 329.9,630.9 335.6,653.2 342.9,672.5 357.2,703.0 366.7,720.1 381.6,743.1 391.4,755.0 401.8,764.7 415.6,774.4 432.9,784.0 456.2,795.2 478.4,804.1 504.8,813.0 535.7,822.0 568.5,830.1 602.6,837.6 634.0,843.5 670.5,849.5 712.7,855.4 755.0,860.6 803.0,865.8 858.2,871.0" stroke-dasharray="60 6 4 6"/>
<path d="M407.3,99.2 408.9,181.0 412.3,278.4 419.3,392.2 421.8,420.4 425.2,448.7 430.0,479.9 434.7,504.5 444.8,548.3 453.3,581.0 464.9,621.2 471.0,639.8 477.5,655.4 486.7,671.8 501.5,694.8 512.5,710.4 526.9,728.3 538.9,741.7 549.2,751.3 559.9,759.5 569.7,765.5 583.6,772.1 608.1,781.8 641.6,793.0 667.5,800.4 697.7,807.8 732.6,815.3 772.6,822.7 813.9,829.4 861.2,836.1" stroke-dasharray="14 7"/>
<path d="M540.5,99.2 542.4,173.6 546.7,268.0 555.6,377.3 558.5,405.6 561.5,427.1 565.7,450.9 571.3,477.7 575.8,495.5 581.7,515.6 592.4,549.1 601.0,573.6 617.3,615.2 625.2,633.8 632.9,648.7 640.2,659.9 651.0,673.2 670.9,695.6 683.9,708.9 696.1,720.1 715.6,736.5 729.8,746.9 740.7,753.6 752.0,759.5 762.2,764.0 776.5,769.2 793.3,774.4 812.3,779.6 863.2,791.5" stroke-dasharray="14 8"/>
<path d="M691.8,99.2 693.0,144.6 695.5,196.6 699.3,257.6 702.9,296.2 711.3,372.1 716.1,407.0 722.2,437.5 731.5,472.5 736.5,488.1 742.8,505.2 763.2,552.8 780.0,587.0 796.0,616.7 803.8,630.1 814.9,646.5 825.2,658.4 839.8,671.8 866.3,693.3" stroke-dasharray="20 7"/>
</g>
<use href="#fb" transform="translate(1805.80,545.35) scale(1.00665,1.00560) translate(-1805.80,-545.35)"/>
<g id="fb">
<rect x="1430.0" y="99.2" width="751.6" height="892.3" fill="#0008ff"/>
<path d="M1434.9,99.2 1435.1,731.2 1435.9,865.1 1437.4,991.5 2181.6,991.5 2181.6,99.2Z" fill="#0018ff"/>
<path d="M1439.7,99.2 1440.3,731.2 1441.7,865.1 1444.8,991.5 2181.6,991.5 2181.6,99.2Z" fill="#0028ff"/>
<path d="M1444.6,99.2 1444.8,505.2 1445.4,731.2 1446.3,801.9 1447.6,865.1 1449.3,920.9 1452.2,991.5 2181.6,991.5 2181.6,99.2Z" fill="#0038ff"/>
<path d="M1449.4,99.2 1449.7,505.2 1450.6,731.2 1451.7,801.9 1453.4,865.1 1455.7,920.9 1459.5,991.5 2181.6,991.5 2181.6,99.2Z" fill="#0048ff"/>
<path d="M1454.3,99.2 1454.6,505.2 1455.7,731.2 1457.1,801.9 1459.3,865.1 1462.2,920.9 1466.9,991.5 2181.6,991.5 2181.6,99.2Z" fill="#0058ff"/>
<path d="M1459.1,99.2 1459.6,505.2 1460.2,661.3 1460.8,731.2 1462.5,801.9 1465.1,864.3 1468.5,919.4 1474.2,991.5 2181.6,991.5 2181.6,99.2Z" fill="#0068ff"/>
<path d="M1463.9,99.2 1464.5,504.5 1465.2,660.6 1466.0,730.5 1467.9,801.1 1470.9,863.6 1474.9,920.1 1481.4,991.5 2181.6,991.5 2181.6,99.2Z" fill="#0078ff"/>
<path d="M1468.8,99.2 1469.4,503.7 1470.2,659.9 1471.1,730.5 1473.3,801.1 1476.7,864.3 1481.2,920.9 1488.6,991.5 2181.6,991.5 2181.6,99.2Z" fill="#0087ff"/>
<path d="M1473.6,99.2 1474.3,505.9 1475.2,662.1 1476.2,732.0 1478.6,802.6 1482.5,865.8 1487.6,921.6 1495.9,991.5 2181.6,991.5 2181.6,99.2Z" fill="#0097ff"/>
<path d="M1478.3,99.2 1479.1,507.4 1480.1,662.8 1481.2,732.7 1484.0,804.1 1485.9,836.1 1488.3,867.3 1494.1,923.1 1503.4,991.5 2181.6,991.5 2181.6,99.2Z" fill="#00a7ff"/>
<path d="M1483.1,99.2 1483.9,510.4 1485.0,665.8 1486.3,735.0 1487.5,768.4 1489.5,806.3 1491.6,838.3 1494.4,869.6 1497.3,897.1 1500.8,924.6 1511.2,991.5 2181.6,991.5 2181.6,99.2Z" fill="#00b7ff"/>
<path d="M1487.8,99.2 1488.8,511.9 1490.0,666.6 1491.4,735.7 1492.7,769.2 1494.8,806.3 1497.3,838.3 1500.2,868.8 1503.4,895.6 1507.1,921.6 1519.2,991.5 2181.6,991.5 2181.6,99.2Z" fill="#00c7ff"/>
<path d="M1492.6,99.2 1493.6,511.9 1495.0,666.6 1495.6,707.5 1496.5,735.7 1498.0,769.2 1500.3,806.3 1502.9,837.6 1506.1,867.3 1509.8,894.8 1514.2,923.1 1527.2,991.5 2181.6,991.5 2181.6,99.2Z" fill="#00d7ff"/>
<path d="M1497.4,99.2 1498.6,512.6 1500.0,667.3 1500.8,707.5 1501.7,735.7 1503.4,769.2 1506.0,806.3 1508.9,838.3 1512.6,868.8 1516.7,897.1 1521.5,924.6 1526.3,949.1 1535.5,991.5 2181.6,991.5 2181.6,99.2Z" fill="#00e7ff"/>
<path d="M1502.3,99.2 1502.8,345.3 1503.6,511.9 1505.2,665.8 1506.0,706.7 1507.1,735.0 1508.9,769.2 1511.8,807.1 1515.0,839.1 1519.1,870.3 1523.6,898.6 1528.9,926.1 1534.5,951.3 1544.3,991.5 2181.6,991.5 2181.6,99.2Z" fill="#00f7ff"/>
<path d="M1507.4,99.2 1508.0,347.6 1508.8,515.6 1510.6,670.3 1511.5,708.9 1512.8,738.7 1514.7,772.1 1518.0,810.8 1521.7,843.5 1526.1,874.0 1531.3,903.0 1537.1,929.8 1543.7,955.8 1553.7,991.5 2181.6,991.5 2181.6,99.2Z" fill="#00fff7"/>
<path d="M1512.6,99.2 1513.2,352.0 1514.1,520.8 1516.1,674.0 1517.0,710.4 1518.5,741.7 1520.9,778.8 1524.2,813.8 1528.3,846.5 1533.1,876.2 1538.6,903.8 1544.7,929.0 1550.2,948.4 1563.5,991.5 2181.6,991.5 2181.6,99.2Z" fill="#00ffe7"/>
<path d="M1517.8,99.2 1518.4,355.0 1519.5,524.5 1521.6,677.0 1522.5,711.9 1524.2,743.9 1526.9,780.3 1530.5,815.3 1534.9,847.2 1540.0,876.2 1545.4,900.8 1551.5,923.8 1559.3,949.1 1573.5,991.5 2181.6,991.5 2181.6,99.2Z" fill="#00ffd7"/>
<path d="M1523.0,99.2 1523.7,360.2 1524.9,530.5 1527.2,680.7 1528.2,714.1 1530.1,746.9 1533.0,781.8 1536.8,816.0 1541.5,846.5 1547.0,874.8 1553.6,901.5 1561.7,929.0 1570.6,955.1 1584.2,991.5 2181.6,991.5 2181.6,99.2Z" fill="#00ffc7"/>
<path d="M1528.3,99.2 1529.1,364.7 1530.4,535.7 1532.9,684.4 1534.1,716.4 1536.2,749.8 1539.5,785.5 1543.8,819.0 1548.9,848.7 1555.2,877.0 1563.1,906.0 1572.1,933.5 1581.5,958.0 1595.8,991.5 2181.6,991.5 2181.6,99.2Z" fill="#00ffb7"/>
<path d="M1533.8,99.2 1534.7,374.3 1536.2,547.6 1537.7,639.8 1539.0,691.8 1540.3,720.8 1542.9,755.8 1546.7,791.5 1551.5,823.5 1558.0,856.2 1566.0,887.4 1574.8,915.7 1584.8,941.7 1594.6,963.2 1609.6,991.5 2181.6,991.5 2181.6,99.2Z" fill="#00ffa7"/>
<path d="M1539.4,99.2 1540.4,382.5 1542.2,558.0 1543.8,645.7 1545.3,697.8 1546.8,725.3 1549.8,760.2 1554.6,798.2 1560.7,833.1 1568.2,865.8 1576.9,895.6 1581.5,909.0 1586.7,922.3 1592.2,935.0 1597.6,946.1 1607.3,963.2 1626.1,991.5 2181.6,991.5 2181.6,99.2Z" fill="#00ff97"/>
<path d="M1545.3,99.2 1546.4,386.2 1547.2,480.7 1548.4,562.5 1550.2,648.7 1551.9,700.0 1553.6,727.5 1557.0,763.2 1562.5,802.6 1565.7,820.5 1569.4,838.3 1573.3,854.7 1577.8,871.0 1582.7,886.7 1587.9,900.8 1592.7,912.7 1597.8,923.8 1603.3,934.2 1608.5,943.2 1621.4,961.8 1645.1,991.5 2181.6,991.5 2181.6,99.2Z" fill="#00ff87"/>
<path d="M1551.5,99.2 1552.7,390.7 1553.6,484.4 1555.0,568.4 1556.9,651.7 1558.7,703.0 1560.7,731.2 1564.4,766.9 1567.4,787.8 1570.5,806.3 1574.2,824.9 1578.1,842.0 1582.6,858.4 1587.5,874.0 1592.6,888.1 1598.3,901.5 1603.8,912.7 1609.2,922.3 1616.4,933.5 1623.9,943.9 1638.6,961.8 1666.6,991.5 2181.6,991.5 2181.6,99.2Z" fill="#00ff78"/>
<path d="M1557.8,99.2 1559.3,406.3 1560.3,497.8 1562.0,588.5 1563.7,659.1 1565.7,706.7 1568.2,737.9 1572.5,773.6 1575.6,793.0 1579.0,810.8 1582.8,827.9 1586.9,843.5 1591.5,858.4 1596.5,872.5 1602.1,885.9 1607.6,897.1 1614.1,908.2 1622.0,920.1 1629.7,930.5 1638.9,941.7 1655.8,959.5 1690.0,991.5 2181.6,991.5 2181.6,99.2Z" fill="#00ff68"/>
<path d="M1564.3,99.2 1565.0,288.8 1566.0,427.1 1567.2,517.8 1569.3,616.0 1571.0,671.8 1573.0,711.9 1576.5,747.6 1578.5,764.0 1581.1,780.3 1584.6,798.9 1588.3,816.0 1592.6,832.4 1597.3,847.2 1602.2,860.6 1607.4,872.5 1613.6,884.4 1620.1,895.6 1627.6,906.7 1635.4,917.1 1644.1,927.6 1653.8,938.0 1672.7,955.8 1699.0,978.1 1714.0,991.5 2181.6,991.5 2181.6,99.2Z" fill="#00ff58"/>
<path d="M1570.9,99.2 1571.7,290.3 1572.8,429.4 1574.1,520.1 1576.4,619.0 1578.2,674.0 1580.2,712.7 1584.2,749.1 1586.4,764.7 1589.1,780.3 1592.8,798.2 1596.9,814.5 1601.3,829.4 1606.1,842.8 1611.5,855.4 1618.2,868.8 1625.1,880.7 1632.9,892.6 1640.7,903.0 1648.1,911.9 1656.9,921.6 1666.7,931.3 1682.4,945.4 1715.1,972.2 1737.5,991.5 2181.6,991.5 2181.6,99.2Z" fill="#00ff48"/>
<path d="M1577.7,99.2 1578.5,288.1 1579.7,424.9 1581.0,515.6 1583.4,612.3 1585.4,669.5 1587.7,710.4 1589.2,726.0 1591.5,743.9 1594.4,762.5 1597.1,776.6 1601.0,793.7 1605.3,809.3 1609.8,822.7 1615.5,836.8 1622.1,851.0 1629.1,863.6 1636.5,875.5 1645.1,887.4 1652.9,897.1 1661.6,906.7 1671.2,916.4 1681.6,926.1 1702.6,943.9 1761.7,991.5 2181.6,991.5 2181.6,99.2Z" fill="#00ff38"/>
<path d="M1584.8,99.2 1585.6,277.7 1586.7,407.0 1588.1,498.5 1590.3,587.7 1592.8,658.4 1595.5,706.0 1598.9,735.0 1602.3,755.8 1604.8,768.4 1608.9,784.8 1613.9,801.1 1619.6,816.8 1625.7,830.9 1632.5,844.3 1639.8,856.9 1647.8,868.8 1656.9,880.7 1665.9,891.1 1676.6,902.3 1687.5,912.7 1701.9,925.3 1722.3,942.4 1736.3,953.6 1786.8,991.5 2181.6,991.5 2181.6,99.2Z" fill="#00ff28"/>
<path d="M1592.3,99.2 1593.2,273.9 1594.5,404.1 1596.0,495.5 1598.4,582.5 1601.3,656.1 1604.4,704.5 1605.9,717.9 1608.0,731.2 1614.7,764.0 1619.5,781.1 1624.7,796.7 1630.5,811.6 1637.1,825.7 1644.4,839.1 1652.3,851.7 1660.9,863.6 1670.6,875.5 1682.2,888.1 1695.1,900.8 1712.4,916.4 1731.6,932.8 1744.7,943.2 1760.8,955.1 1812.8,991.5 2181.6,991.5 2181.6,99.2Z" fill="#00ff18"/>
<path d="M1600.5,99.2 1601.5,264.3 1602.9,396.6 1604.6,488.1 1607.2,571.4 1610.9,651.7 1612.6,678.5 1614.7,702.2 1616.2,714.9 1618.7,729.0 1626.1,761.7 1631.4,778.8 1637.2,794.5 1643.4,808.6 1650.6,822.7 1658.6,836.1 1667.3,848.7 1677.1,861.4 1688.2,874.0 1702.7,888.9 1720.8,906.0 1734.4,917.9 1749.1,929.8 1763.9,940.9 1780.8,952.8 1839.4,991.5 2181.6,991.5 2181.6,99.2Z" fill="#00ff08"/>
<path d="M1609.9,99.2 1611.0,255.4 1612.7,390.7 1614.7,483.6 1617.7,566.2 1621.9,649.5 1623.8,676.2 1626.1,700.0 1627.9,713.4 1630.4,726.8 1633.8,741.7 1638.9,760.2 1645.1,778.1 1651.5,793.7 1658.9,808.6 1667.4,823.5 1676.9,837.6 1687.8,851.7 1700.6,866.6 1714.8,881.4 1727.6,894.1 1741.7,906.7 1756.2,918.6 1771.9,930.5 1787.8,941.7 1804.7,952.8 1866.6,991.5 2181.6,991.5 2181.6,99.2Z" fill="#08ff00"/>
<path d="M1620.6,99.2 1621.7,239.7 1623.5,375.8 1625.6,472.5 1628.4,547.6 1633.3,637.6 1635.3,665.1 1637.6,688.9 1639.6,706.0 1641.9,718.6 1645.4,733.5 1650.5,751.3 1655.4,766.2 1663.2,784.8 1671.4,801.1 1680.6,816.8 1691.3,832.4 1703.4,848.0 1720.2,867.3 1733.1,880.7 1745.7,892.6 1760.5,905.2 1776.8,917.9 1793.4,929.8 1810.1,940.9 1828.0,952.1 1894.5,991.5 2181.6,991.5 2181.6,99.2Z" fill="#18ff00"/>
<path d="M1632.3,99.2 1633.4,228.6 1635.3,363.2 1637.6,463.6 1640.3,532.7 1645.7,625.7 1647.9,654.7 1650.2,679.2 1653.0,701.5 1655.0,713.4 1658.4,727.5 1663.3,743.9 1670.0,763.2 1677.0,778.8 1685.8,795.9 1695.6,812.3 1707.9,830.1 1722.3,848.7 1735.4,863.6 1749.4,877.7 1763.4,890.4 1779.8,903.8 1796.8,916.4 1815.4,929.0 1834.2,940.9 1854.2,952.8 1923.2,991.5 2181.6,991.5 2181.6,99.2Z" fill="#28ff00"/>
<path d="M1645.0,99.2 1646.1,223.4 1648.2,356.5 1650.8,459.1 1653.6,524.5 1659.5,618.2 1661.9,648.7 1664.5,674.0 1667.2,695.6 1669.7,710.4 1673.2,724.6 1678.2,740.2 1686.1,761.7 1692.3,775.1 1702.5,794.5 1714.3,813.8 1726.2,830.9 1738.0,845.8 1751.5,860.6 1766.8,875.5 1782.3,888.9 1799.4,902.3 1817.2,914.9 1837.8,928.3 1858.7,940.9 1879.8,952.8 1952.6,991.5 2181.6,991.5 2181.6,99.2Z" fill="#38ff00"/>
<path d="M1658.8,99.2 1660.1,221.9 1662.3,354.2 1665.2,457.6 1668.2,522.3 1671.0,566.9 1674.7,616.0 1677.4,648.0 1680.2,673.2 1683.1,694.8 1686.0,710.4 1689.7,724.6 1694.9,740.2 1703.5,762.5 1711.0,778.1 1721.9,798.2 1732.2,814.5 1743.6,830.1 1756.0,845.0 1770.2,859.9 1785.4,874.0 1802.5,888.1 1820.5,901.5 1840.2,914.9 1861.8,928.3 1882.5,940.2 1904.6,952.1 1982.8,991.5 2181.6,991.5 2181.6,99.2Z" fill="#48ff00"/>
<path d="M1673.6,99.2 1675.1,225.6 1677.6,359.5 1680.8,461.3 1684.3,529.0 1687.4,574.3 1691.5,624.9 1694.3,654.7 1697.3,679.2 1700.8,701.5 1703.3,713.4 1707.6,728.3 1714.2,746.9 1721.3,764.7 1730.6,783.3 1740.5,800.4 1751.6,816.8 1764.5,833.1 1778.0,848.0 1792.5,862.1 1808.9,876.2 1826.1,889.6 1845.2,903.0 1866.1,916.4 1887.6,929.0 1909.5,940.9 1932.9,952.8 2013.7,991.5 2181.6,991.5 2181.6,99.2Z" fill="#58ff00"/>
<path d="M1689.2,99.2 1690.7,226.4 1693.5,360.9 1696.8,462.1 1700.6,532.0 1703.9,578.1 1708.3,630.1 1711.2,659.1 1714.3,683.7 1717.5,703.7 1720.4,716.4 1725.2,732.0 1732.1,750.6 1738.7,766.2 1749.1,785.5 1759.8,802.6 1771.7,819.0 1784.9,834.6 1799.3,849.5 1814.8,863.6 1832.2,877.7 1850.4,891.1 1870.6,904.5 1891.5,917.1 1914.2,929.8 1935.8,940.9 1960.4,952.8 2045.3,991.5 2181.6,991.5 2181.6,99.2Z" fill="#68ff00"/>
<path d="M1705.0,99.2 1706.6,227.1 1709.4,362.4 1712.8,463.6 1716.7,534.9 1720.1,581.8 1724.2,630.9 1727.1,659.1 1730.3,683.7 1733.6,703.7 1736.4,715.6 1741.4,731.2 1748.3,749.1 1755.6,765.5 1766.4,784.8 1777.6,801.9 1790.1,818.2 1803.9,833.9 1818.9,848.7 1835.9,863.6 1854.0,877.7 1872.0,890.4 1893.0,903.8 1914.8,916.4 1938.6,929.0 1962.7,940.9 1986.9,952.1 2077.6,991.5 2181.6,991.5 2181.6,99.2Z" fill="#78ff00"/>
<path d="M1720.6,99.2 1722.2,228.6 1725.0,363.9 1728.3,464.3 1732.3,534.9 1735.8,580.3 1740.2,630.1 1743.2,658.4 1746.5,682.9 1750.1,703.7 1753.0,715.6 1758.0,730.5 1765.3,748.3 1773.2,765.5 1784.1,784.0 1795.8,801.1 1808.8,817.5 1823.2,833.1 1839.6,848.7 1857.3,863.6 1876.3,877.7 1895.1,890.4 1917.1,903.8 1940.0,916.4 1964.9,929.0 1990.3,940.9 2017.3,952.8 2110.7,991.5 2181.6,991.5 2181.6,99.2Z" fill="#87ff00"/>
<path d="M1736.0,99.2 1737.6,228.6 1740.6,363.9 1744.1,464.3 1748.3,534.9 1752.0,580.3 1756.6,630.1 1759.7,658.4 1763.2,682.9 1767.0,703.7 1770.1,715.6 1775.3,730.5 1782.9,748.3 1790.8,764.7 1802.2,783.3 1814.3,800.4 1828.5,817.5 1843.5,833.1 1860.6,848.7 1879.2,863.6 1899.0,877.7 1920.0,891.1 1943.2,904.5 1967.3,917.1 1993.5,929.8 2020.1,941.7 2050.3,954.3 2144.8,991.5 2181.6,991.5 2181.6,99.2Z" fill="#97ff00"/>
<path d="M1751.8,99.2 1753.5,228.6 1756.6,363.2 1760.3,463.6 1762.2,498.5 1764.7,534.2 1768.5,580.3 1773.4,630.1 1776.7,658.4 1780.4,682.9 1784.3,703.7 1787.6,715.6 1793.0,730.5 1801.0,748.3 1809.7,765.5 1821.6,784.0 1834.4,801.1 1849.3,818.2 1865.0,833.9 1883.0,849.5 1901.5,863.6 1922.2,877.7 1944.1,891.1 1968.4,904.5 1993.7,917.1 2021.1,929.8 2050.7,942.4 2082.4,955.1 2179.9,991.5 2181.6,991.5 2181.6,99.2Z" fill="#a7ff00"/>
<path d="M1767.9,99.2 1769.6,218.9 1772.6,351.3 1776.5,455.4 1780.3,519.3 1784.0,563.9 1788.8,613.0 1792.4,645.7 1796.0,671.8 1799.8,693.3 1803.6,709.7 1808.4,723.8 1815.1,739.4 1826.0,761.0 1833.3,772.9 1847.1,792.2 1862.1,810.1 1877.3,825.7 1894.8,841.3 1913.8,856.2 1934.2,870.3 1957.1,884.4 1979.8,897.1 2006.3,910.4 2035.4,923.8 2067.1,937.2 2097.4,949.1 2125.6,959.5 2181.6,979.2 2181.6,99.2Z" fill="#b7ff00"/>
<path d="M1784.5,99.2 1786.1,213.7 1789.1,343.1 1792.8,442.0 1796.7,508.9 1799.9,549.1 1804.0,591.5 1808.7,634.6 1812.5,663.6 1816.3,685.9 1820.7,706.0 1824.7,718.6 1830.6,732.7 1839.8,751.3 1848.6,766.9 1861.7,785.5 1875.7,802.6 1890.6,818.2 1907.7,833.9 1926.4,848.7 1945.3,862.1 1966.4,875.5 1989.9,888.9 2017.5,903.0 2044.7,915.7 2074.2,928.3 2108.2,941.7 2147.2,955.8 2181.6,967.4 2181.6,99.2Z" fill="#c7ff00"/>
<path d="M1801.4,99.2 1803.0,209.3 1806.1,337.1 1809.7,433.1 1811.5,469.5 1813.5,501.5 1816.7,540.1 1820.5,580.3 1825.7,627.1 1829.6,656.9 1833.7,681.4 1838.3,703.0 1841.9,714.9 1846.9,727.5 1855.3,744.6 1866.2,764.0 1878.3,781.1 1890.4,795.9 1905.0,811.6 1920.9,826.4 1938.2,840.6 1957.6,854.7 1978.4,868.1 2001.5,881.4 2025.7,894.1 2052.2,906.7 2081.3,919.4 2111.0,931.3 2143.2,943.2 2181.6,956.3 2181.6,99.2Z" fill="#d7ff00"/>
<path d="M1818.6,99.2 1820.2,207.0 1823.3,332.7 1826.9,426.4 1828.8,465.0 1830.9,496.3 1833.9,533.5 1837.7,572.1 1843.1,620.5 1847.0,650.9 1851.0,675.5 1855.5,697.0 1859.1,710.4 1863.9,723.1 1872.2,740.2 1884.5,761.7 1894.0,775.1 1905.9,790.0 1919.6,804.9 1935.2,819.7 1952.2,833.9 1970.3,847.2 1990.6,860.6 2011.9,873.3 2035.5,885.9 2061.6,898.6 2088.4,910.4 2117.6,922.3 2149.5,934.2 2181.6,945.4 2181.6,99.2Z" fill="#e7ff00"/>
<path d="M1836.1,99.2 1837.8,204.8 1840.9,329.0 1844.4,419.7 1848.5,491.1 1851.4,527.5 1855.2,566.2 1860.7,613.8 1864.8,645.7 1868.7,669.5 1872.9,690.3 1876.7,706.0 1881.2,718.6 1889.8,736.5 1903.2,759.5 1909.9,769.2 1921.1,783.3 1934.4,798.2 1949.0,812.3 1964.6,825.7 1982.1,839.1 2001.8,852.4 2022.6,865.1 2044.2,877.0 2067.9,888.9 2093.9,900.8 2120.6,911.9 2149.5,923.1 2181.6,934.5 2181.6,99.2Z" fill="#f7ff00"/>
<path d="M1853.9,99.2 1855.6,202.6 1858.8,326.0 1862.3,415.2 1866.4,487.4 1869.4,523.0 1873.1,560.2 1877.8,601.1 1882.9,640.5 1886.6,663.6 1890.7,684.4 1895.4,703.7 1899.2,714.9 1906.1,729.8 1915.7,746.9 1926.1,763.2 1936.5,776.6 1948.9,790.7 1963.0,804.9 1978.2,818.2 1995.3,831.6 2013.4,844.3 2032.3,856.2 2053.1,868.1 2076.2,880.0 2099.8,891.1 2125.6,902.3 2151.9,912.7 2181.6,923.5 2181.6,99.2Z" fill="#fff700"/>
<path d="M1871.9,99.2 1873.6,201.8 1876.9,323.8 1880.5,412.2 1884.7,484.4 1887.7,519.3 1891.5,556.5 1896.1,595.9 1901.6,636.8 1905.2,659.9 1909.2,679.9 1914.1,700.0 1917.9,711.9 1923.1,723.8 1930.3,737.2 1944.4,759.5 1951.0,768.4 1964.4,784.0 1977.4,797.4 1992.1,810.8 2007.8,823.5 2025.3,836.1 2043.6,848.0 2062.5,859.1 2083.3,870.3 2106.1,881.4 2129.3,891.9 2154.6,902.3 2181.6,912.5 2181.6,99.2Z" fill="#ffe700"/>
<path d="M1890.3,99.2 1892.1,201.1 1895.4,322.3 1899.0,409.3 1903.4,482.1 1906.4,517.1 1910.2,553.5 1914.9,592.2 1920.5,633.1 1924.1,655.4 1928.0,675.5 1932.6,694.8 1936.9,708.9 1941.9,720.8 1948.7,733.5 1959.0,749.8 1969.9,765.5 1982.8,780.3 1994.4,792.2 2007.3,804.1 2021.6,816.0 2037.5,827.9 2054.1,839.1 2072.3,850.2 2090.9,860.6 2111.3,871.0 2133.6,881.4 2156.1,891.1 2181.6,901.2 2181.6,99.2Z" fill="#ffd700"/>
<path d="M1909.0,99.2 1910.8,200.3 1914.2,320.8 1917.9,407.0 1922.4,479.9 1925.4,514.1 1929.3,550.6 1934.0,588.5 1939.7,629.4 1943.5,652.4 1947.3,671.8 1951.5,689.6 1956.2,706.0 1961.1,717.9 1967.8,730.5 1976.7,744.6 1989.3,762.5 1998.1,772.9 2010.9,786.3 2022.6,797.4 2034.8,807.8 2049.2,819.0 2065.0,830.1 2081.3,840.6 2099.1,851.0 2118.7,861.4 2138.5,871.0 2160.1,880.7 2181.6,889.6 2181.6,99.2Z" fill="#ffc700"/>
<path d="M1928.0,99.2 1929.8,199.6 1933.4,320.0 1937.2,405.6 1941.8,478.4 1944.9,512.6 1948.8,548.3 1953.6,585.5 1959.4,626.4 1963.2,649.5 1967.2,669.5 1971.5,687.4 1976.2,703.7 1981.0,715.6 1987.7,728.3 1996.7,742.4 2009.5,760.2 2016.3,768.4 2027.6,780.3 2037.5,790.0 2048.4,799.7 2061.3,810.1 2075.4,820.5 2090.9,830.9 2106.7,840.6 2123.9,850.2 2141.1,859.1 2161.4,868.8 2181.6,877.7 2181.6,99.2Z" fill="#ffb700"/>
<path d="M1947.3,99.2 1949.2,198.1 1952.8,317.1 1956.6,401.1 1961.3,474.7 1964.3,508.2 1968.2,542.4 1972.9,578.8 1978.6,618.2 1982.6,642.8 1986.5,662.8 1990.6,680.7 1995.4,697.8 1999.0,708.2 2003.7,718.6 2010.6,730.5 2019.1,743.1 2031.2,759.5 2036.1,765.5 2049.0,778.8 2060.8,790.0 2073.0,800.4 2086.4,810.8 2100.1,820.5 2115.0,830.1 2130.0,839.1 2147.7,848.7 2163.9,856.9 2181.6,865.2 2181.6,99.2Z" fill="#ffa700"/>
<path d="M1967.0,99.2 1968.8,195.9 1972.5,313.4 1976.3,395.9 1981.0,469.5 1983.7,499.2 1987.0,529.7 1991.0,561.0 1995.7,594.4 2000.8,627.1 2004.8,649.5 2009.1,669.5 2013.9,688.1 2018.2,702.2 2021.1,709.7 2025.4,718.6 2031.0,728.3 2040.7,742.4 2054.4,760.2 2060.3,766.9 2069.9,776.6 2081.0,787.0 2093.3,797.4 2105.9,807.1 2119.6,816.8 2133.4,825.7 2148.4,834.6 2164.7,843.5 2181.6,852.0 2181.6,99.2Z" fill="#ff9700"/>
<path d="M1986.9,99.2 1988.9,195.1 1992.6,311.1 1996.4,392.2 2001.1,465.0 2006.5,519.3 2014.2,578.1 2024.1,639.0 2028.3,659.9 2032.5,677.7 2036.3,691.1 2040.5,703.7 2043.6,711.2 2047.8,719.3 2053.7,729.0 2060.9,739.4 2071.3,752.8 2080.6,764.0 2089.5,772.9 2102.4,784.8 2114.0,794.5 2125.6,803.4 2139.4,813.0 2152.1,821.2 2167.2,830.1 2181.6,838.1 2181.6,99.2Z" fill="#ff8700"/>
<path d="M2007.2,99.2 2009.2,192.9 2012.9,307.4 2016.7,387.0 2021.5,459.8 2026.3,509.7 2033.1,562.5 2043.4,627.1 2047.4,648.0 2051.3,665.8 2055.0,679.9 2058.7,692.6 2062.8,704.5 2066.1,711.9 2070.9,720.8 2077.2,730.5 2084.3,740.2 2093.8,752.1 2101.4,761.0 2107.8,767.7 2120.7,779.6 2132.2,789.2 2143.7,798.2 2155.2,806.3 2168.8,815.3 2181.6,823.0 2181.6,99.2Z" fill="#ff7800"/>
<path d="M2027.8,99.2 2029.8,191.4 2033.6,304.4 2037.3,382.5 2042.1,453.9 2046.4,500.0 2052.5,548.3 2061.7,607.1 2066.2,632.3 2070.1,651.7 2076.9,679.2 2080.8,691.8 2085.0,703.7 2087.5,709.7 2091.0,716.4 2100.2,730.5 2107.5,740.2 2116.1,750.6 2125.2,761.0 2131.9,767.7 2144.4,778.8 2155.3,787.8 2168.2,797.4 2181.6,806.6 2181.6,99.2Z" fill="#ff6800"/>
<path d="M2048.7,99.2 2050.6,187.7 2054.3,295.5 2057.8,369.9 2062.2,438.3 2066.2,484.4 2071.5,529.7 2078.9,578.8 2088.2,631.6 2094.1,659.1 2100.6,682.9 2108.1,704.5 2110.8,710.4 2114.5,717.1 2120.8,726.8 2128.1,736.5 2136.9,746.9 2148.9,760.2 2161.6,772.1 2181.6,788.3 2181.6,99.2Z" fill="#ff5800"/>
<path d="M2069.9,99.2 2071.5,174.3 2074.4,262.0 2077.3,332.7 2080.9,396.6 2085.0,452.4 2088.4,488.8 2093.6,530.5 2100.5,575.1 2109.1,623.4 2115.6,653.9 2122.9,680.7 2126.8,692.6 2131.1,703.7 2134.2,710.4 2138.0,717.1 2143.0,724.6 2148.6,732.0 2156.0,740.9 2165.3,751.3 2174.5,761.0 2181.6,767.6 2181.6,99.2Z" fill="#ff4800"/>
<path d="M2091.4,99.2 2092.6,157.2 2094.6,222.6 2097.5,297.7 2100.3,355.7 2103.6,408.5 2107.5,458.4 2110.8,491.1 2115.1,524.5 2122.3,570.6 2131.4,620.5 2138.0,650.9 2144.6,675.5 2152.1,697.0 2155.5,705.2 2158.5,711.2 2162.5,717.9 2167.7,725.3 2174.2,733.5 2181.6,741.9 2181.6,99.2Z" fill="#ff3800"/>
<path d="M2113.3,99.2 2115.8,201.1 2120.8,323.0 2123.3,368.4 2126.1,410.8 2129.7,455.4 2132.5,482.9 2136.9,517.8 2142.5,554.3 2149.3,592.2 2157.5,633.1 2162.7,655.4 2168.5,675.5 2175.1,694.1 2181.6,708.8 2181.6,99.2Z" fill="#ff2800"/>
<path d="M2135.6,99.2 2137.8,187.7 2142.0,296.2 2146.1,371.4 2151.3,440.5 2155.8,485.9 2162.2,532.0 2170.8,581.0 2181.6,633.8 2181.6,99.2Z" fill="#ff1800"/>
<path d="M2158.4,99.2 2159.5,152.0 2161.4,210.7 2164.6,285.8 2167.3,338.6 2170.4,387.7 2174.1,434.6 2177.5,470.2 2181.6,502.9 2181.6,99.2Z" fill="#ff0800"/>
</g>
<g fill="none" stroke="#000" stroke-opacity="0.3" stroke-width="1.4">
<path d="M1468.8,99.2 1469.4,503.7 1470.2,659.9 1471.1,730.5 1473.3,801.1 1476.7,864.3 1481.2,920.9 1488.6,991.5"/>
<path d="M1507.4,99.2 1508.0,347.6 1508.8,515.6 1510.6,670.3 1511.5,708.9 1512.8,738.7 1514.7,772.1 1518.0,810.8 1521.7,843.5 1526.1,874.0 1531.3,903.0 1537.1,929.8 1543.7,955.8 1553.7,991.5" stroke-dasharray="22 9"/>
<path d="M1551.5,99.2 1552.7,390.7 1555.0,568.4 1556.9,651.7 1558.7,703.0 1560.7,731.2 1564.4,766.9 1570.5,806.3 1574.2,824.9 1578.1,842.0 1582.6,858.4 1587.5,874.0 1592.6,888.1 1598.3,901.5 1603.8,912.7 1609.2,922.3 1616.4,933.5 1623.9,943.9 1638.6,961.8 1666.6,991.5" stroke-dasharray="7 5"/>
<path d="M1609.9,99.2 1611.0,255.4 1612.7,390.7 1614.7,483.6 1617.7,566.2 1621.9,649.5 1626.1,700.0 1627.9,713.4 1630.4,726.8 1638.9,760.2 1645.1,778.1 1651.5,793.7 1658.9,808.6 1667.4,823.5 1676.9,837.6 1687.8,851.7 1700.6,866.6 1714.8,881.4 1727.6,894.1 1741.7,906.7 1756.2,918.6 1771.9,930.5 1804.7,952.8 1866.6,991.5"/>
<path d="M1720.6,99.2 1722.2,228.6 1725.0,363.9 1728.3,464.3 1732.3,534.9 1740.2,630.1 1743.2,658.4 1746.5,682.9 1750.1,703.7 1753.0,715.6 1758.0,730.5 1765.3,748.3 1773.2,765.5 1784.1,784.0 1795.8,801.1 1808.8,817.5 1823.2,833.1 1839.6,848.7 1857.3,863.6 1876.3,877.7 1895.1,890.4 1917.1,903.8 1940.0,916.4 1964.9,929.0 1990.3,940.9 2017.3,952.8 2110.7,991.5" stroke-dasharray="12 7"/>
<path d="M1853.9,99.2 1855.6,202.6 1858.8,326.0 1862.3,415.2 1866.4,487.4 1869.4,523.0 1873.1,560.2 1882.9,640.5 1886.6,663.6 1890.7,684.4 1895.4,703.7 1899.2,714.9 1906.1,729.8 1915.7,746.9 1926.1,763.2 1936.5,776.6 1948.9,790.7 1963.0,804.9 1978.2,818.2 1995.3,831.6 2013.4,844.3 2032.3,856.2 2053.1,868.1 2076.2,880.0 2099.8,891.1 2125.6,902.3 2151.9,912.7 2180.3,923.1" stroke-dasharray="18 6 4 6"/>
<path d="M2007.2,99.2 2009.2,192.9 2012.9,307.4 2016.7,387.0 2021.5,459.8 2026.3,509.7 2033.1,562.5 2043.4,627.1 2047.4,648.0 2051.3,665.8 2058.7,692.6 2062.8,704.5 2066.1,711.9 2070.9,720.8 2076.7,729.8 2093.2,751.3 2101.4,761.0 2107.8,767.7 2120.7,779.6 2131.2,788.5 2154.1,805.6 2167.6,814.5 2181.1,822.7" stroke-dasharray="20 7"/>
</g>
<rect x="115.2" y="984" width="751.2" height="6" fill="#00005a" fill-opacity="0.3"/>
<rect x="114.7" y="98.7" width="752.2" height="893.3" stroke="#000" stroke-opacity="0.74" stroke-width="4.2" fill="none"/>
<g stroke="#3a3a36" stroke-width="3" fill="none">
<path d="M115.2,993.5V1008.5"/>
<path d="M190.3,993.5V1001.0"/>
<path d="M113.2,991.5H100.7"/>
<path d="M113.2,902.3H107.7"/>
<path d="M265.4,993.5V1008.5"/>
<path d="M340.6,993.5V1001.0"/>
<path d="M113.2,813.0H100.7"/>
<path d="M113.2,723.8H107.7"/>
<path d="M415.7,993.5V1008.5"/>
<path d="M490.8,993.5V1001.0"/>
<path d="M113.2,634.6H100.7"/>
<path d="M113.2,545.4H107.7"/>
<path d="M565.9,993.5V1008.5"/>
<path d="M641.0,993.5V1001.0"/>
<path d="M113.2,456.1H100.7"/>
<path d="M113.2,366.9H107.7"/>
<path d="M716.2,993.5V1008.5"/>
<path d="M791.3,993.5V1001.0"/>
<path d="M113.2,277.7H100.7"/>
<path d="M113.2,188.4H107.7"/>
<path d="M866.4,993.5V1008.5"/>
<path d="M113.2,99.2H100.7"/>
</g>
<text transform="translate(115.2,1051.5) scale(0.770,1)" font-size="41.5" text-anchor="middle" font-family="Liberation Sans, sans-serif" fill="#1a1a1a" stroke="#1a1a1a" stroke-width="0.5">0</text>
<text transform="translate(90.7,1005.0) scale(0.770,1)" font-size="41.5" text-anchor="end" font-family="Liberation Sans, sans-serif" fill="#1a1a1a" stroke="#1a1a1a" stroke-width="0.5">0</text>
<text transform="translate(265.4,1051.5) scale(0.770,1)" font-size="41.5" text-anchor="middle" font-family="Liberation Sans, sans-serif" fill="#1a1a1a" stroke="#1a1a1a" stroke-width="0.5">1</text>
<text transform="translate(90.7,826.5) scale(0.770,1)" font-size="41.5" text-anchor="end" font-family="Liberation Sans, sans-serif" fill="#1a1a1a" stroke="#1a1a1a" stroke-width="0.5">1</text>
<text transform="translate(415.7,1051.5) scale(0.770,1)" font-size="41.5" text-anchor="middle" font-family="Liberation Sans, sans-serif" fill="#1a1a1a" stroke="#1a1a1a" stroke-width="0.5">2</text>
<text transform="translate(90.7,648.1) scale(0.770,1)" font-size="41.5" text-anchor="end" font-family="Liberation Sans, sans-serif" fill="#1a1a1a" stroke="#1a1a1a" stroke-width="0.5">2</text>
<text transform="translate(565.9,1051.5) scale(0.770,1)" font-size="41.5" text-anchor="middle" font-family="Liberation Sans, sans-serif" fill="#1a1a1a" stroke="#1a1a1a" stroke-width="0.5">3</text>
<text transform="translate(90.7,469.6) scale(0.770,1)" font-size="41.5" text-anchor="end" font-family="Liberation Sans, sans-serif" fill="#1a1a1a" stroke="#1a1a1a" stroke-width="0.5">3</text>
<text transform="translate(716.2,1051.5) scale(0.770,1)" font-size="41.5" text-anchor="middle" font-family="Liberation Sans, sans-serif" fill="#1a1a1a" stroke="#1a1a1a" stroke-width="0.5">4</text>
<text transform="translate(90.7,291.2) scale(0.770,1)" font-size="41.5" text-anchor="end" font-family="Liberation Sans, sans-serif" fill="#1a1a1a" stroke="#1a1a1a" stroke-width="0.5">4</text>
<text transform="translate(866.4,1051.5) scale(0.770,1)" font-size="41.5" text-anchor="middle" font-family="Liberation Sans, sans-serif" fill="#1a1a1a" stroke="#1a1a1a" stroke-width="0.5">5</text>
<text transform="translate(90.7,112.7) scale(0.770,1)" font-size="41.5" text-anchor="end" font-family="Liberation Sans, sans-serif" fill="#1a1a1a" stroke="#1a1a1a" stroke-width="0.5">5</text>
<text transform="translate(490.8,1122.0) scale(0.800,1)" font-size="43" text-anchor="middle" font-family="Liberation Sans, sans-serif" fill="#1a1a1a" stroke="#1a1a1a" stroke-width="0.5">x</text>
<text transform="translate(57.2,544.8) scale(0.8,1) rotate(-90)" font-size="44" text-anchor="middle" font-family="Liberation Sans, sans-serif" fill="#1a1a1a">η</text>
<rect x="1429.5" y="98.7" width="752.6" height="893.3" stroke="#000" stroke-opacity="0.74" stroke-width="4.2" fill="none"/>
<g stroke="#3a3a36" stroke-width="3" fill="none">
<path d="M1430.0,993.5V1008.5"/>
<path d="M1505.2,993.5V1001.0"/>
<path d="M1428.0,991.5H1415.5"/>
<path d="M1428.0,902.3H1422.5"/>
<path d="M1580.3,993.5V1008.5"/>
<path d="M1655.5,993.5V1001.0"/>
<path d="M1428.0,813.0H1415.5"/>
<path d="M1428.0,723.8H1422.5"/>
<path d="M1730.6,993.5V1008.5"/>
<path d="M1805.8,993.5V1001.0"/>
<path d="M1428.0,634.6H1415.5"/>
<path d="M1428.0,545.4H1422.5"/>
<path d="M1881.0,993.5V1008.5"/>
<path d="M1956.1,993.5V1001.0"/>
<path d="M1428.0,456.1H1415.5"/>
<path d="M1428.0,366.9H1422.5"/>
<path d="M2031.3,993.5V1008.5"/>
<path d="M2106.4,993.5V1001.0"/>
<path d="M1428.0,277.7H1415.5"/>
<path d="M1428.0,188.4H1422.5"/>
<path d="M2181.6,993.5V1008.5"/>
<path d="M1428.0,99.2H1415.5"/>
</g>
<text transform="translate(1430.0,1051.5) scale(0.770,1)" font-size="41.5" text-anchor="middle" font-family="Liberation Sans, sans-serif" fill="#1a1a1a" stroke="#1a1a1a" stroke-width="0.5">0</text>
<text transform="translate(1405.5,1005.0) scale(0.770,1)" font-size="41.5" text-anchor="end" font-family="Liberation Sans, sans-serif" fill="#1a1a1a" stroke="#1a1a1a" stroke-width="0.5">0</text>
<text transform="translate(1580.3,1051.5) scale(0.770,1)" font-size="41.5" text-anchor="middle" font-family="Liberation Sans, sans-serif" fill="#1a1a1a" stroke="#1a1a1a" stroke-width="0.5">1</text>
<text transform="translate(1405.5,826.5) scale(0.770,1)" font-size="41.5" text-anchor="end" font-family="Liberation Sans, sans-serif" fill="#1a1a1a" stroke="#1a1a1a" stroke-width="0.5">1</text>
<text transform="translate(1730.6,1051.5) scale(0.770,1)" font-size="41.5" text-anchor="middle" font-family="Liberation Sans, sans-serif" fill="#1a1a1a" stroke="#1a1a1a" stroke-width="0.5">2</text>
<text transform="translate(1405.5,648.1) scale(0.770,1)" font-size="41.5" text-anchor="end" font-family="Liberation Sans, sans-serif" fill="#1a1a1a" stroke="#1a1a1a" stroke-width="0.5">2</text>
<text transform="translate(1881.0,1051.5) scale(0.770,1)" font-size="41.5" text-anchor="middle" font-family="Liberation Sans, sans-serif" fill="#1a1a1a" stroke="#1a1a1a" stroke-width="0.5">3</text>
<text transform="translate(1405.5,469.6) scale(0.770,1)" font-size="41.5" text-anchor="end" font-family="Liberation Sans, sans-serif" fill="#1a1a1a" stroke="#1a1a1a" stroke-width="0.5">3</text>
<text transform="translate(2031.3,1051.5) scale(0.770,1)" font-size="41.5" text-anchor="middle" font-family="Liberation Sans, sans-serif" fill="#1a1a1a" stroke="#1a1a1a" stroke-width="0.5">4</text>
<text transform="translate(1405.5,291.2) scale(0.770,1)" font-size="41.5" text-anchor="end" font-family="Liberation Sans, sans-serif" fill="#1a1a1a" stroke="#1a1a1a" stroke-width="0.5">4</text>
<text transform="translate(2181.6,1051.5) scale(0.770,1)" font-size="41.5" text-anchor="middle" font-family="Liberation Sans, sans-serif" fill="#1a1a1a" stroke="#1a1a1a" stroke-width="0.5">5</text>
<text transform="translate(1405.5,112.7) scale(0.770,1)" font-size="41.5" text-anchor="end" font-family="Liberation Sans, sans-serif" fill="#1a1a1a" stroke="#1a1a1a" stroke-width="0.5">5</text>
<text transform="translate(1805.8,1122.0) scale(0.800,1)" font-size="43" text-anchor="middle" font-family="Liberation Sans, sans-serif" fill="#1a1a1a" stroke="#1a1a1a" stroke-width="0.5">x</text>
<text transform="translate(1372.0,544.8) scale(0.8,1) rotate(-90)" font-size="44" text-anchor="middle" font-family="Liberation Sans, sans-serif" fill="#1a1a1a">η</text>
<rect x="915.0" y="981.9" width="60.5" height="15.6" fill="#000"/>
<rect x="915.0" y="978.9" width="60.5" height="4" fill="#0000c8"/>
<rect x="915.0" y="966.01" width="60.5" height="13.79" fill="#0008ff"/>
<rect x="915.0" y="952.61" width="60.5" height="13.79" fill="#0018ff"/>
<rect x="915.0" y="939.22" width="60.5" height="13.79" fill="#0028ff"/>
<rect x="915.0" y="925.82" width="60.5" height="13.79" fill="#0038ff"/>
<rect x="915.0" y="912.43" width="60.5" height="13.79" fill="#0048ff"/>
<rect x="915.0" y="899.04" width="60.5" height="13.79" fill="#0058ff"/>
<rect x="915.0" y="885.64" width="60.5" height="13.79" fill="#0068ff"/>
<rect x="915.0" y="872.25" width="60.5" height="13.79" fill="#0078ff"/>
<rect x="915.0" y="858.86" width="60.5" height="13.79" fill="#0087ff"/>
<rect x="915.0" y="845.46" width="60.5" height="13.79" fill="#0097ff"/>
<rect x="915.0" y="832.07" width="60.5" height="13.79" fill="#00a7ff"/>
<rect x="915.0" y="818.67" width="60.5" height="13.79" fill="#00b7ff"/>
<rect x="915.0" y="805.28" width="60.5" height="13.79" fill="#00c7ff"/>
<rect x="915.0" y="791.89" width="60.5" height="13.79" fill="#00d7ff"/>
<rect x="915.0" y="778.49" width="60.5" height="13.79" fill="#00e7ff"/>
<rect x="915.0" y="765.10" width="60.5" height="13.79" fill="#00f7ff"/>
<rect x="915.0" y="751.71" width="60.5" height="13.79" fill="#00fff7"/>
<rect x="915.0" y="738.31" width="60.5" height="13.79" fill="#00ffe7"/>
<rect x="915.0" y="724.92" width="60.5" height="13.79" fill="#00ffd7"/>
<rect x="915.0" y="711.52" width="60.5" height="13.79" fill="#00ffc7"/>
<rect x="915.0" y="698.13" width="60.5" height="13.79" fill="#00ffb7"/>
<rect x="915.0" y="684.74" width="60.5" height="13.79" fill="#00ffa7"/>
<rect x="915.0" y="671.34" width="60.5" height="13.79" fill="#00ff97"/>
<rect x="915.0" y="657.95" width="60.5" height="13.79" fill="#00ff87"/>
<rect x="915.0" y="644.56" width="60.5" height="13.79" fill="#00ff78"/>
<rect x="915.0" y="631.16" width="60.5" height="13.79" fill="#00ff68"/>
<rect x="915.0" y="617.77" width="60.5" height="13.79" fill="#00ff58"/>
<rect x="915.0" y="604.38" width="60.5" height="13.79" fill="#00ff48"/>
<rect x="915.0" y="590.98" width="60.5" height="13.79" fill="#00ff38"/>
<rect x="915.0" y="577.59" width="60.5" height="13.79" fill="#00ff28"/>
<rect x="915.0" y="564.19" width="60.5" height="13.79" fill="#00ff18"/>
<rect x="915.0" y="550.80" width="60.5" height="13.79" fill="#00ff08"/>
<rect x="915.0" y="537.41" width="60.5" height="13.79" fill="#08ff00"/>
<rect x="915.0" y="524.01" width="60.5" height="13.79" fill="#18ff00"/>
<rect x="915.0" y="510.62" width="60.5" height="13.79" fill="#28ff00"/>
<rect x="915.0" y="497.23" width="60.5" height="13.79" fill="#38ff00"/>
<rect x="915.0" y="483.83" width="60.5" height="13.79" fill="#48ff00"/>
<rect x="915.0" y="470.44" width="60.5" height="13.79" fill="#58ff00"/>
<rect x="915.0" y="457.04" width="60.5" height="13.79" fill="#68ff00"/>
<rect x="915.0" y="443.65" width="60.5" height="13.79" fill="#78ff00"/>
<rect x="915.0" y="430.26" width="60.5" height="13.79" fill="#87ff00"/>
<rect x="915.0" y="416.86" width="60.5" height="13.79" fill="#97ff00"/>
<rect x="915.0" y="403.47" width="60.5" height="13.79" fill="#a7ff00"/>
<rect x="915.0" y="390.08" width="60.5" height="13.79" fill="#b7ff00"/>
<rect x="915.0" y="376.68" width="60.5" height="13.79" fill="#c7ff00"/>
<rect x="915.0" y="363.29" width="60.5" height="13.79" fill="#d7ff00"/>
<rect x="915.0" y="349.89" width="60.5" height="13.79" fill="#e7ff00"/>
<rect x="915.0" y="336.50" width="60.5" height="13.79" fill="#f7ff00"/>
<rect x="915.0" y="323.11" width="60.5" height="13.79" fill="#fff700"/>
<rect x="915.0" y="309.71" width="60.5" height="13.79" fill="#ffe700"/>
<rect x="915.0" y="296.32" width="60.5" height="13.79" fill="#ffd700"/>
<rect x="915.0" y="282.93" width="60.5" height="13.79" fill="#ffc700"/>
<rect x="915.0" y="269.53" width="60.5" height="13.79" fill="#ffb700"/>
<rect x="915.0" y="256.14" width="60.5" height="13.79" fill="#ffa700"/>
<rect x="915.0" y="242.74" width="60.5" height="13.79" fill="#ff9700"/>
<rect x="915.0" y="229.35" width="60.5" height="13.79" fill="#ff8700"/>
<rect x="915.0" y="215.96" width="60.5" height="13.79" fill="#ff7800"/>
<rect x="915.0" y="202.56" width="60.5" height="13.79" fill="#ff6800"/>
<rect x="915.0" y="189.17" width="60.5" height="13.79" fill="#ff5800"/>
<rect x="915.0" y="175.78" width="60.5" height="13.79" fill="#ff4800"/>
<rect x="915.0" y="162.38" width="60.5" height="13.79" fill="#ff3800"/>
<rect x="915.0" y="148.99" width="60.5" height="13.79" fill="#ff2800"/>
<rect x="915.0" y="135.59" width="60.5" height="13.79" fill="#ff1800"/>
<rect x="915.0" y="122.20" width="60.5" height="13.79" fill="#ff0800"/>
<rect x="915.0" y="122.2" width="60.5" height="6.0" fill="#780000" fill-opacity="0.3"/>
<rect x="915.0" y="975.4" width="60.5" height="4.0" fill="#000040" fill-opacity="0.45"/>
<rect x="915.0" y="104.7" width="60.5" height="17.5" fill="#858080"/>
<rect x="915.0" y="104.7" width="60.5" height="892.8" fill="none" stroke="#333" stroke-opacity="0.8" stroke-width="2"/>
<path d="M975.5,122.2H988.5" stroke="#4a4a46" stroke-width="2.8"/>
<text transform="translate(998.0,131.7) scale(0.955,1)" font-size="25.5" text-anchor="start" font-family="Liberation Sans, sans-serif" fill="#1a1a1a" stroke="#1a1a1a" stroke-width="0.5">1.755</text>
<path d="M975.5,229.3H988.5" stroke="#4a4a46" stroke-width="2.8"/>
<text transform="translate(998.0,238.8) scale(0.955,1)" font-size="25.5" text-anchor="start" font-family="Liberation Sans, sans-serif" fill="#1a1a1a" stroke="#1a1a1a" stroke-width="0.5">1.536</text>
<path d="M975.5,336.5H988.5" stroke="#4a4a46" stroke-width="2.8"/>
<text transform="translate(998.0,346.0) scale(0.955,1)" font-size="25.5" text-anchor="start" font-family="Liberation Sans, sans-serif" fill="#1a1a1a" stroke="#1a1a1a" stroke-width="0.5">1.316</text>
<path d="M975.5,443.6H988.5" stroke="#4a4a46" stroke-width="2.8"/>
<text transform="translate(998.0,453.1) scale(0.955,1)" font-size="25.5" text-anchor="start" font-family="Liberation Sans, sans-serif" fill="#1a1a1a" stroke="#1a1a1a" stroke-width="0.5">1.097</text>
<path d="M975.5,550.8H988.5" stroke="#4a4a46" stroke-width="2.8"/>
<text transform="translate(998.0,560.3) scale(0.955,1)" font-size="25.5" text-anchor="start" font-family="Liberation Sans, sans-serif" fill="#1a1a1a" stroke="#1a1a1a" stroke-width="0.5">0.8775</text>
<path d="M975.5,658.0H988.5" stroke="#4a4a46" stroke-width="2.8"/>
<text transform="translate(998.0,667.5) scale(0.955,1)" font-size="25.5" text-anchor="start" font-family="Liberation Sans, sans-serif" fill="#1a1a1a" stroke="#1a1a1a" stroke-width="0.5">0.6581</text>
<path d="M975.5,765.1H988.5" stroke="#4a4a46" stroke-width="2.8"/>
<text transform="translate(998.0,774.6) scale(0.955,1)" font-size="25.5" text-anchor="start" font-family="Liberation Sans, sans-serif" fill="#1a1a1a" stroke="#1a1a1a" stroke-width="0.5">0.4388</text>
<path d="M975.5,872.2H988.5" stroke="#4a4a46" stroke-width="2.8"/>
<text transform="translate(998.0,881.8) scale(0.955,1)" font-size="25.5" text-anchor="start" font-family="Liberation Sans, sans-serif" fill="#1a1a1a" stroke="#1a1a1a" stroke-width="0.5">0.2194</text>
<path d="M975.5,979.4H988.5" stroke="#4a4a46" stroke-width="2.8"/>
<text transform="translate(998.0,988.9) scale(0.955,1)" font-size="25.5" text-anchor="start" font-family="Liberation Sans, sans-serif" fill="#1a1a1a" stroke="#1a1a1a" stroke-width="0.5">0.000</text>
<rect x="2248.0" y="983.0" width="60.0" height="16.0" fill="#000"/>
<rect x="2248.0" y="980.0" width="60.0" height="4" fill="#0000c8"/>
<rect x="2248.0" y="967.11" width="60.0" height="13.79" fill="#0008ff"/>
<rect x="2248.0" y="953.73" width="60.0" height="13.79" fill="#0018ff"/>
<rect x="2248.0" y="940.34" width="60.0" height="13.79" fill="#0028ff"/>
<rect x="2248.0" y="926.95" width="60.0" height="13.79" fill="#0038ff"/>
<rect x="2248.0" y="913.56" width="60.0" height="13.79" fill="#0048ff"/>
<rect x="2248.0" y="900.17" width="60.0" height="13.79" fill="#0058ff"/>
<rect x="2248.0" y="886.79" width="60.0" height="13.79" fill="#0068ff"/>
<rect x="2248.0" y="873.40" width="60.0" height="13.79" fill="#0078ff"/>
<rect x="2248.0" y="860.01" width="60.0" height="13.79" fill="#0087ff"/>
<rect x="2248.0" y="846.62" width="60.0" height="13.79" fill="#0097ff"/>
<rect x="2248.0" y="833.24" width="60.0" height="13.79" fill="#00a7ff"/>
<rect x="2248.0" y="819.85" width="60.0" height="13.79" fill="#00b7ff"/>
<rect x="2248.0" y="806.46" width="60.0" height="13.79" fill="#00c7ff"/>
<rect x="2248.0" y="793.08" width="60.0" height="13.79" fill="#00d7ff"/>
<rect x="2248.0" y="779.69" width="60.0" height="13.79" fill="#00e7ff"/>
<rect x="2248.0" y="766.30" width="60.0" height="13.79" fill="#00f7ff"/>
<rect x="2248.0" y="752.91" width="60.0" height="13.79" fill="#00fff7"/>
<rect x="2248.0" y="739.52" width="60.0" height="13.79" fill="#00ffe7"/>
<rect x="2248.0" y="726.14" width="60.0" height="13.79" fill="#00ffd7"/>
<rect x="2248.0" y="712.75" width="60.0" height="13.79" fill="#00ffc7"/>
<rect x="2248.0" y="699.36" width="60.0" height="13.79" fill="#00ffb7"/>
<rect x="2248.0" y="685.98" width="60.0" height="13.79" fill="#00ffa7"/>
<rect x="2248.0" y="672.59" width="60.0" height="13.79" fill="#00ff97"/>
<rect x="2248.0" y="659.20" width="60.0" height="13.79" fill="#00ff87"/>
<rect x="2248.0" y="645.81" width="60.0" height="13.79" fill="#00ff78"/>
<rect x="2248.0" y="632.42" width="60.0" height="13.79" fill="#00ff68"/>
<rect x="2248.0" y="619.04" width="60.0" height="13.79" fill="#00ff58"/>
<rect x="2248.0" y="605.65" width="60.0" height="13.79" fill="#00ff48"/>
<rect x="2248.0" y="592.26" width="60.0" height="13.79" fill="#00ff38"/>
<rect x="2248.0" y="578.88" width="60.0" height="13.79" fill="#00ff28"/>
<rect x="2248.0" y="565.49" width="60.0" height="13.79" fill="#00ff18"/>
<rect x="2248.0" y="552.10" width="60.0" height="13.79" fill="#00ff08"/>
<rect x="2248.0" y="538.71" width="60.0" height="13.79" fill="#08ff00"/>
<rect x="2248.0" y="525.33" width="60.0" height="13.79" fill="#18ff00"/>
<rect x="2248.0" y="511.94" width="60.0" height="13.79" fill="#28ff00"/>
<rect x="2248.0" y="498.55" width="60.0" height="13.79" fill="#38ff00"/>
<rect x="2248.0" y="485.16" width="60.0" height="13.79" fill="#48ff00"/>
<rect x="2248.0" y="471.78" width="60.0" height="13.79" fill="#58ff00"/>
<rect x="2248.0" y="458.39" width="60.0" height="13.79" fill="#68ff00"/>
<rect x="2248.0" y="445.00" width="60.0" height="13.79" fill="#78ff00"/>
<rect x="2248.0" y="431.61" width="60.0" height="13.79" fill="#87ff00"/>
<rect x="2248.0" y="418.23" width="60.0" height="13.79" fill="#97ff00"/>
<rect x="2248.0" y="404.84" width="60.0" height="13.79" fill="#a7ff00"/>
<rect x="2248.0" y="391.45" width="60.0" height="13.79" fill="#b7ff00"/>
<rect x="2248.0" y="378.06" width="60.0" height="13.79" fill="#c7ff00"/>
<rect x="2248.0" y="364.68" width="60.0" height="13.79" fill="#d7ff00"/>
<rect x="2248.0" y="351.29" width="60.0" height="13.79" fill="#e7ff00"/>
<rect x="2248.0" y="337.90" width="60.0" height="13.79" fill="#f7ff00"/>
<rect x="2248.0" y="324.51" width="60.0" height="13.79" fill="#fff700"/>
<rect x="2248.0" y="311.12" width="60.0" height="13.79" fill="#ffe700"/>
<rect x="2248.0" y="297.74" width="60.0" height="13.79" fill="#ffd700"/>
<rect x="2248.0" y="284.35" width="60.0" height="13.79" fill="#ffc700"/>
<rect x="2248.0" y="270.96" width="60.0" height="13.79" fill="#ffb700"/>
<rect x="2248.0" y="257.58" width="60.0" height="13.79" fill="#ffa700"/>
<rect x="2248.0" y="244.19" width="60.0" height="13.79" fill="#ff9700"/>
<rect x="2248.0" y="230.80" width="60.0" height="13.79" fill="#ff8700"/>
<rect x="2248.0" y="217.41" width="60.0" height="13.79" fill="#ff7800"/>
<rect x="2248.0" y="204.03" width="60.0" height="13.79" fill="#ff6800"/>
<rect x="2248.0" y="190.64" width="60.0" height="13.79" fill="#ff5800"/>
<rect x="2248.0" y="177.25" width="60.0" height="13.79" fill="#ff4800"/>
<rect x="2248.0" y="163.86" width="60.0" height="13.79" fill="#ff3800"/>
<rect x="2248.0" y="150.48" width="60.0" height="13.79" fill="#ff2800"/>
<rect x="2248.0" y="137.09" width="60.0" height="13.79" fill="#ff1800"/>
<rect x="2248.0" y="123.70" width="60.0" height="13.79" fill="#ff0800"/>
<rect x="2248.0" y="123.7" width="60.0" height="6.0" fill="#780000" fill-opacity="0.3"/>
<rect x="2248.0" y="976.5" width="60.0" height="4.0" fill="#000040" fill-opacity="0.45"/>
<rect x="2248.0" y="105.9" width="60.0" height="17.8" fill="#858080"/>
<rect x="2248.0" y="105.9" width="60.0" height="893.1" fill="none" stroke="#333" stroke-opacity="0.8" stroke-width="2"/>
<path d="M2308.0,123.7H2321.0" stroke="#4a4a46" stroke-width="2.8"/>
<text transform="translate(2330.5,133.2) scale(0.955,1)" font-size="25.5" text-anchor="start" font-family="Liberation Sans, sans-serif" fill="#1a1a1a" stroke="#1a1a1a" stroke-width="0.5">1.760</text>
<path d="M2308.0,230.8H2321.0" stroke="#4a4a46" stroke-width="2.8"/>
<text transform="translate(2330.5,240.3) scale(0.955,1)" font-size="25.5" text-anchor="start" font-family="Liberation Sans, sans-serif" fill="#1a1a1a" stroke="#1a1a1a" stroke-width="0.5">1.540</text>
<path d="M2308.0,337.9H2321.0" stroke="#4a4a46" stroke-width="2.8"/>
<text transform="translate(2330.5,347.4) scale(0.955,1)" font-size="25.5" text-anchor="start" font-family="Liberation Sans, sans-serif" fill="#1a1a1a" stroke="#1a1a1a" stroke-width="0.5">1.320</text>
<path d="M2308.0,445.0H2321.0" stroke="#4a4a46" stroke-width="2.8"/>
<text transform="translate(2330.5,454.5) scale(0.955,1)" font-size="25.5" text-anchor="start" font-family="Liberation Sans, sans-serif" fill="#1a1a1a" stroke="#1a1a1a" stroke-width="0.5">1.100</text>
<path d="M2308.0,552.1H2321.0" stroke="#4a4a46" stroke-width="2.8"/>
<text transform="translate(2330.5,561.6) scale(0.955,1)" font-size="25.5" text-anchor="start" font-family="Liberation Sans, sans-serif" fill="#1a1a1a" stroke="#1a1a1a" stroke-width="0.5">0.8800</text>
<path d="M2308.0,659.2H2321.0" stroke="#4a4a46" stroke-width="2.8"/>
<text transform="translate(2330.5,668.7) scale(0.955,1)" font-size="25.5" text-anchor="start" font-family="Liberation Sans, sans-serif" fill="#1a1a1a" stroke="#1a1a1a" stroke-width="0.5">0.6600</text>
<path d="M2308.0,766.3H2321.0" stroke="#4a4a46" stroke-width="2.8"/>
<text transform="translate(2330.5,775.8) scale(0.955,1)" font-size="25.5" text-anchor="start" font-family="Liberation Sans, sans-serif" fill="#1a1a1a" stroke="#1a1a1a" stroke-width="0.5">0.4400</text>
<path d="M2308.0,873.4H2321.0" stroke="#4a4a46" stroke-width="2.8"/>
<text transform="translate(2330.5,882.9) scale(0.955,1)" font-size="25.5" text-anchor="start" font-family="Liberation Sans, sans-serif" fill="#1a1a1a" stroke="#1a1a1a" stroke-width="0.5">0.2200</text>
<path d="M2308.0,980.5H2321.0" stroke="#4a4a46" stroke-width="2.8"/>
<text transform="translate(2330.5,990.0) scale(0.955,1)" font-size="25.5" text-anchor="start" font-family="Liberation Sans, sans-serif" fill="#1a1a1a" stroke="#1a1a1a" stroke-width="0.5">0.000</text>
<text transform="translate(285.0,67.5) scale(0.8015,1)" font-size="47" font-family="Liberation Serif, serif" fill="#1a1a1a" stroke="#1a1a1a" stroke-width="0.8">Stream line In the presence of λ<tspan dy="-14" font-size="30">*</tspan><tspan dy="14">=0.5</tspan></text>
<text transform="translate(874.0,67.5) scale(0.80,1)" font-size="50.5" font-weight="bold" font-family="Liberation Serif, serif" fill="#2a5238" stroke="#2a5238" stroke-width="0.5">(a)</text>
<text transform="translate(1609.0,53.4) scale(0.8015,1)" font-size="47" font-family="Liberation Serif, serif" fill="#1a1a1a" stroke="#1a1a1a" stroke-width="0.8">Stream line In the presence of λ<tspan dy="-14" font-size="30">*</tspan><tspan dy="14">=0.5</tspan></text>
<text transform="translate(2197.0,53.4) scale(0.80,1)" font-size="50.5" font-weight="bold" font-family="Liberation Serif, serif" fill="#2a5238" stroke="#2a5238" stroke-width="0.5">(b)</text>
<text transform="translate(541.5,1180.5) scale(0.880,1)" font-size="36" text-anchor="middle" font-family="Liberation Serif, serif" fill="#1a1a1a" stroke="#1a1a1a" stroke-width="0.5">Fluid phase</text>
<text transform="translate(1823.0,1180.5) scale(0.880,1)" font-size="36" text-anchor="middle" font-family="Liberation Serif, serif" fill="#1a1a1a" stroke="#1a1a1a" stroke-width="0.5">Dust phase</text>
</svg>
</body></html>
